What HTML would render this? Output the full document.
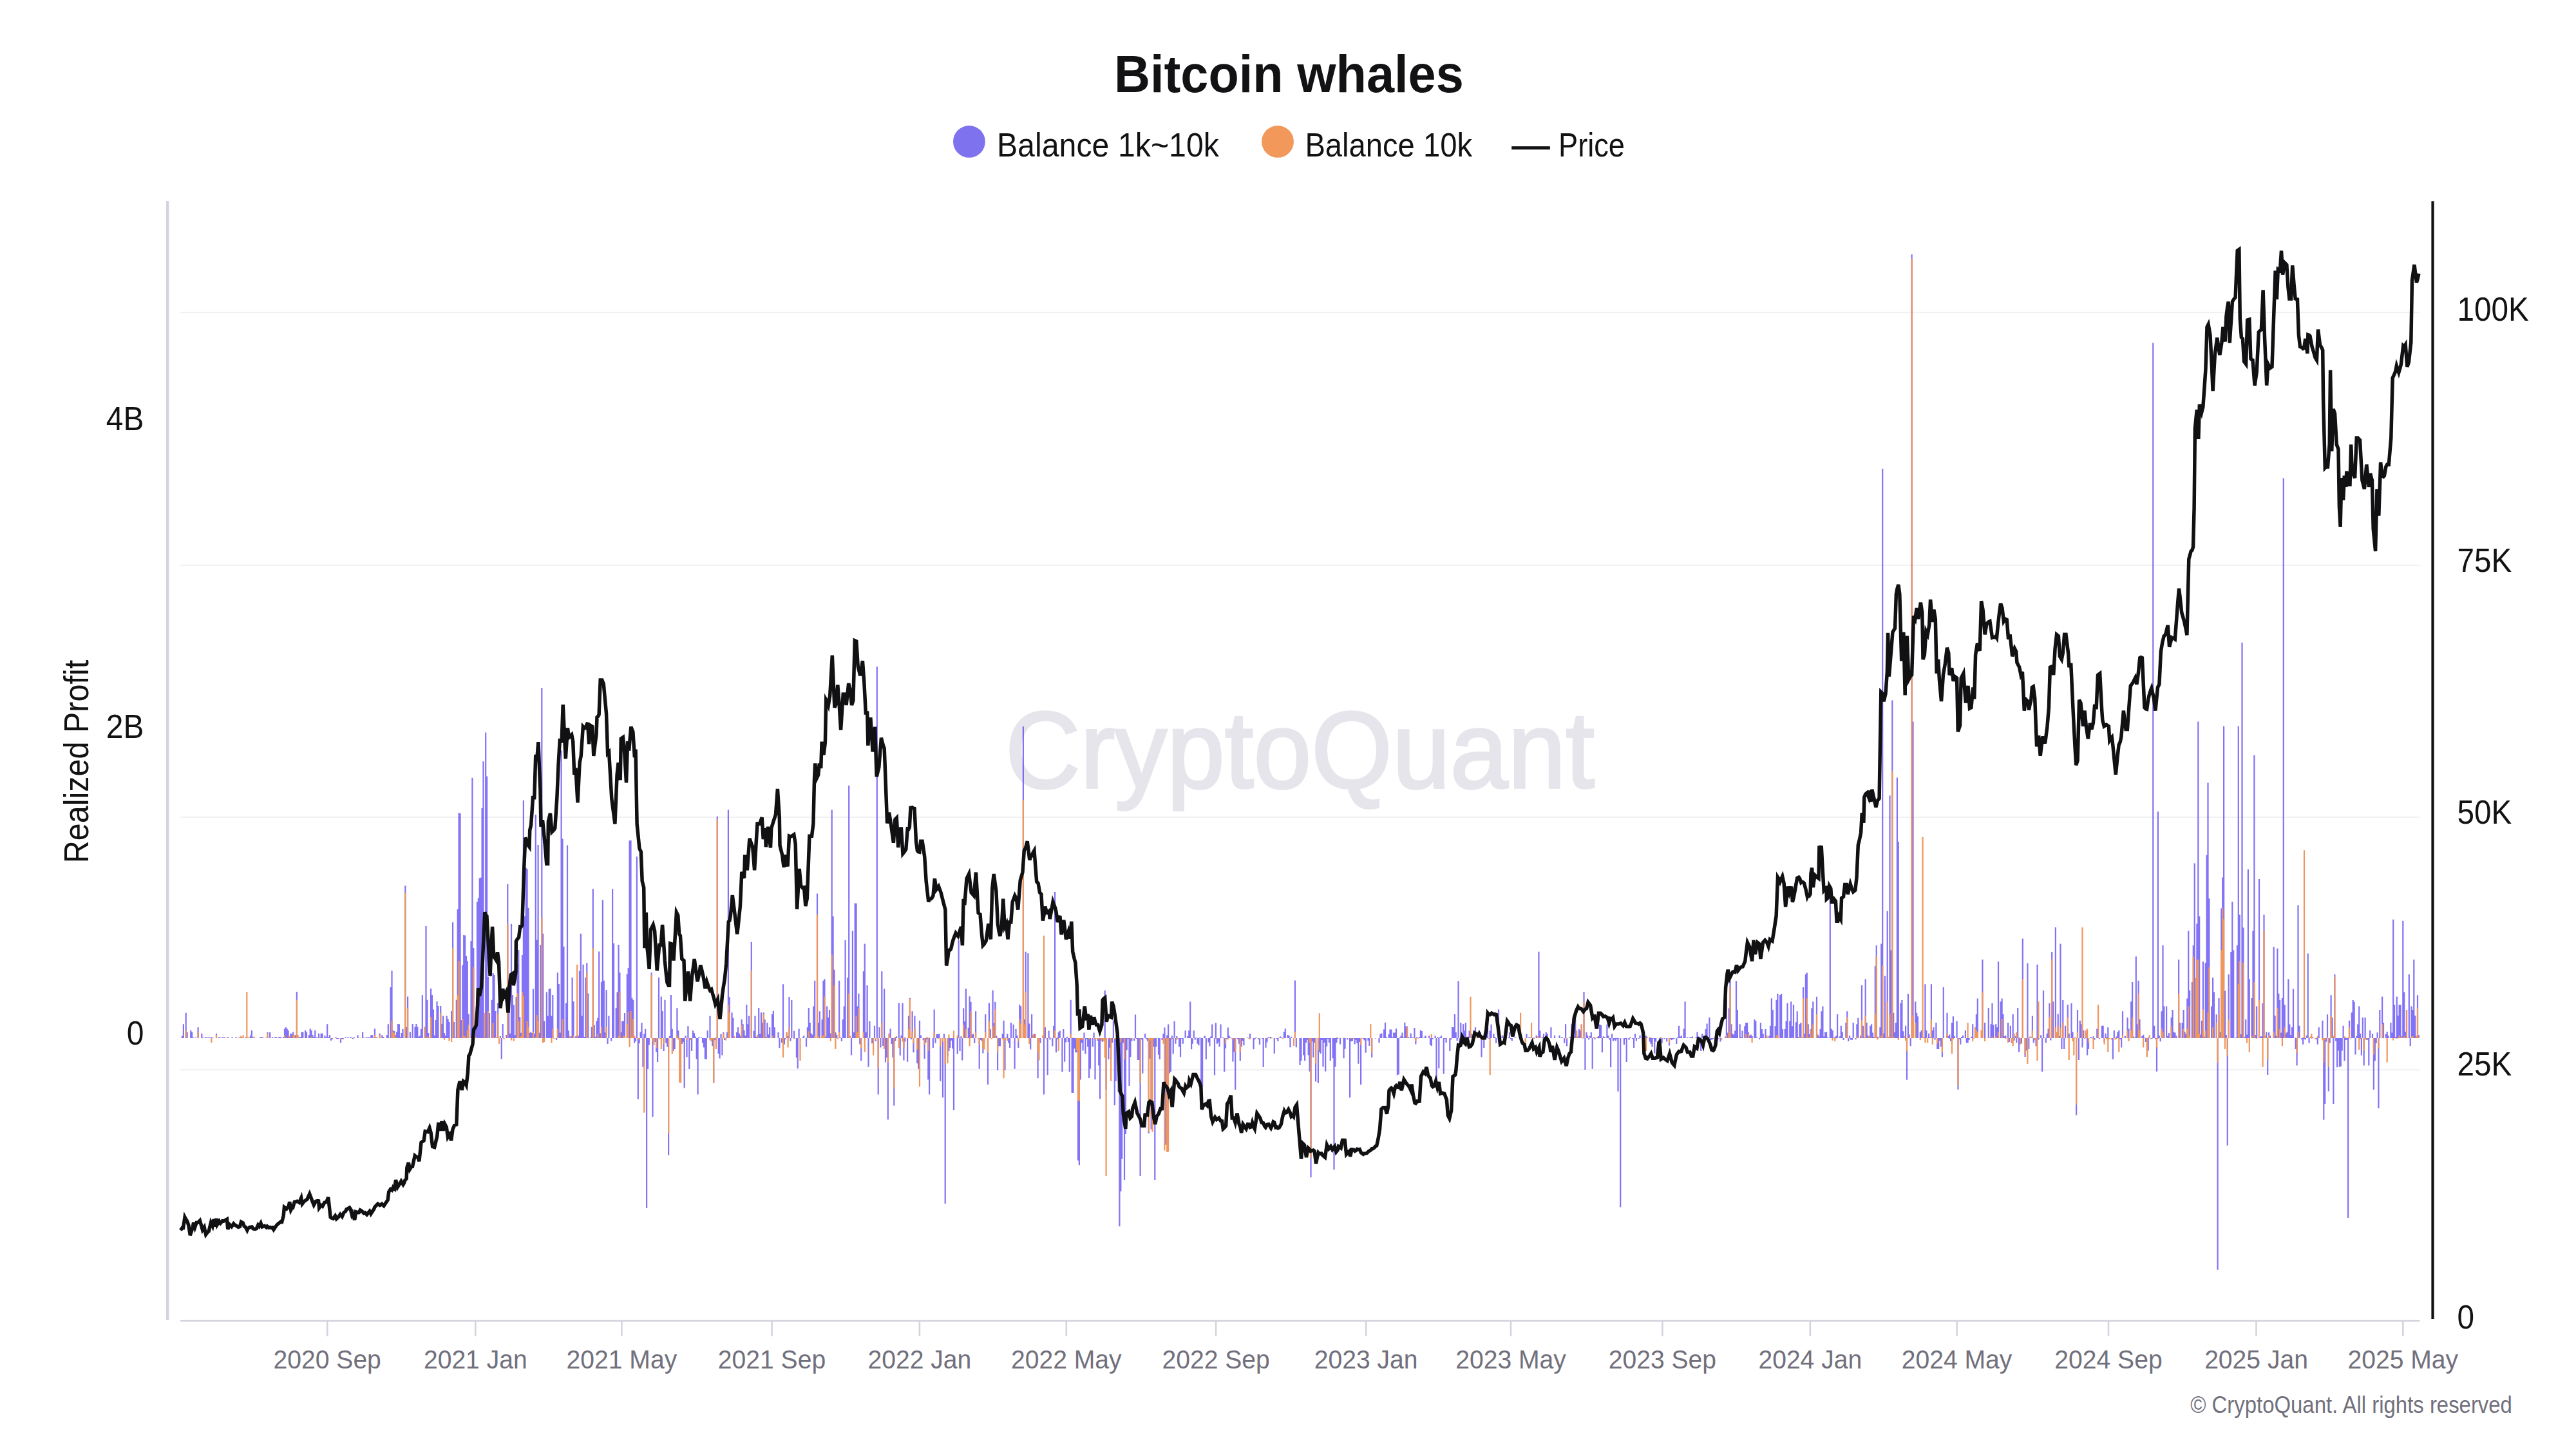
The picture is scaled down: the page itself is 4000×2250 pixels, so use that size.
<!DOCTYPE html><html><head><meta charset="utf-8"><title>Bitcoin whales</title><style>html,body{margin:0;padding:0;background:#fff;width:4000px;height:2250px;overflow:hidden}svg{display:block}text{font-family:"Liberation Sans", sans-serif}</style></head><body><svg width="4000" height="2250" viewBox="0 0 4000 2250"><rect x="0" y="0" width="4000" height="2250" fill="#ffffff"/><text x="1729.9" y="143.2" font-size="82" font-weight="bold" fill="#121214" textLength="543" lengthAdjust="spacingAndGlyphs">Bitcoin whales</text><circle cx="1504.9" cy="219.9" r="24.9" fill="#7f72ee"/><text x="1547.9" y="243.1" font-size="51.5" fill="#121214" textLength="345.1" lengthAdjust="spacingAndGlyphs">Balance 1k~10k</text><circle cx="1984" cy="219.9" r="24.9" fill="#f2985a"/><text x="2026.4" y="243.1" font-size="51.5" fill="#121214" textLength="259.6" lengthAdjust="spacingAndGlyphs">Balance 10k</text><rect x="2347.2" y="227.2" width="59.7" height="5" fill="#121214"/><text x="2420" y="243.1" font-size="51.5" fill="#121214" textLength="103" lengthAdjust="spacingAndGlyphs">Price</text><rect x="280" y="484.2" width="3477" height="2" fill="#f0f0f3"/><rect x="280" y="876.8" width="3477" height="2" fill="#f0f0f3"/><rect x="280" y="1267.9" width="3477" height="2" fill="#f0f0f3"/><rect x="280" y="1660.2" width="3477" height="2" fill="#f0f0f3"/><text x="1561" y="1223" font-size="168" fill="#e5e5eb" stroke="#e5e5eb" stroke-width="3.5" textLength="915" lengthAdjust="spacingAndGlyphs">CryptoQuant</text><path d="M281.9 1608.5h2.2v3.5h-2.2zM283.8 1590.3h2.2v21.7h-2.2zM287.6 1572.7h2.2v39.3h-2.2zM289.5 1603.1h2.2v8.9h-2.2zM295.1 1600.0h2.2v12.0h-2.2zM297.0 1602.4h2.2v9.6h-2.2zM298.9 1611.0h2.2v1.0h-2.2zM302.7 1610.9h2.2v1.1h-2.2zM306.5 1595.2h2.2v16.8h-2.2zM312.2 1604.8h2.2v7.2h-2.2zM314.1 1611.0h2.2v1.0h-2.2zM317.8 1610.4h2.2v1.6h-2.2zM319.7 1611.0h2.2v1.0h-2.2zM321.6 1610.9h2.2v1.1h-2.2zM323.5 1610.9h2.2v1.1h-2.2zM325.4 1611.1h2.2v0.9h-2.2zM327.3 1610.8h2.2v1.2h-2.2zM329.2 1611.1h2.2v0.9h-2.2zM334.9 1604.8h2.2v7.2h-2.2zM338.7 1610.6h2.2v1.4h-2.2zM340.6 1611.0h2.2v1.0h-2.2zM344.3 1610.6h2.2v1.4h-2.2zM346.2 1611.1h2.2v0.9h-2.2zM348.1 1610.7h2.2v1.3h-2.2zM351.9 1611.0h2.2v1.0h-2.2zM353.8 1610.6h2.2v1.4h-2.2zM359.5 1610.6h2.2v1.4h-2.2zM365.2 1610.6h2.2v1.4h-2.2zM368.9 1611.2h2.2v0.8h-2.2zM374.6 1610.6h2.2v1.4h-2.2zM384.1 1611.0h2.2v1.0h-2.2zM387.9 1608.0h2.2v4.0h-2.2zM389.8 1600.0h2.2v12.0h-2.2zM391.7 1610.8h2.2v1.2h-2.2zM403.0 1610.6h2.2v1.4h-2.2zM404.9 1610.6h2.2v1.4h-2.2zM406.8 1610.5h2.2v1.5h-2.2zM412.5 1611.3h2.2v0.7h-2.2zM414.4 1603.1h2.2v8.9h-2.2zM418.1 1603.1h2.2v8.9h-2.2zM421.9 1610.6h2.2v1.4h-2.2zM425.7 1610.6h2.2v1.4h-2.2zM427.6 1610.3h2.2v1.7h-2.2zM431.4 1610.6h2.2v1.4h-2.2zM433.3 1610.1h2.2v1.9h-2.2zM435.2 1610.6h2.2v1.4h-2.2zM439.0 1610.1h2.2v1.9h-2.2zM440.9 1597.6h2.2v14.4h-2.2zM442.8 1595.2h2.2v16.8h-2.2zM444.6 1597.6h2.2v14.4h-2.2zM446.5 1600.0h2.2v12.0h-2.2zM448.4 1610.0h2.2v2.0h-2.2zM450.3 1604.8h2.2v7.2h-2.2zM452.2 1606.0h2.2v6.0h-2.2zM454.1 1602.4h2.2v9.6h-2.2zM456.0 1611.0h2.2v1.0h-2.2zM457.9 1607.2h2.2v4.8h-2.2zM459.8 1540.1h2.2v71.9h-2.2zM463.6 1610.7h2.2v1.3h-2.2zM465.5 1610.2h2.2v1.8h-2.2zM467.4 1602.4h2.2v9.6h-2.2zM469.2 1602.4h2.2v9.6h-2.2zM473.0 1600.0h2.2v12.0h-2.2zM474.9 1602.4h2.2v9.6h-2.2zM478.7 1607.2h2.2v4.8h-2.2zM480.6 1597.6h2.2v14.4h-2.2zM482.5 1600.0h2.2v12.0h-2.2zM484.4 1607.2h2.2v4.8h-2.2zM486.3 1610.3h2.2v1.7h-2.2zM488.2 1600.0h2.2v12.0h-2.2zM490.1 1611.0h2.2v1.0h-2.2zM492.0 1611.0h2.2v1.0h-2.2zM493.9 1604.8h2.2v7.2h-2.2zM495.7 1610.9h2.2v1.1h-2.2zM497.6 1604.8h2.2v7.2h-2.2zM499.5 1604.8h2.2v7.2h-2.2zM503.3 1608.0h2.2v4.0h-2.2zM505.2 1610.5h2.2v1.5h-2.2zM507.1 1590.3h2.2v21.7h-2.2zM509.0 1610.6h2.2v1.4h-2.2zM510.9 1607.2h2.2v4.8h-2.2zM512.8 1612.0h2.2v3.7h-2.2zM514.7 1612.0h2.2v1.8h-2.2zM520.3 1610.5h2.2v1.5h-2.2zM522.2 1612.0h2.2v1.3h-2.2zM524.1 1612.0h2.2v1.3h-2.2zM527.9 1612.0h2.2v7.3h-2.2zM529.8 1612.0h2.2v1.5h-2.2zM531.7 1612.0h2.2v1.4h-2.2zM535.5 1610.6h2.2v1.4h-2.2zM539.3 1610.6h2.2v1.4h-2.2zM543.1 1610.6h2.2v1.4h-2.2zM545.0 1611.1h2.2v0.9h-2.2zM546.8 1612.0h2.2v1.3h-2.2zM548.7 1610.6h2.2v1.4h-2.2zM554.4 1607.2h2.2v4.8h-2.2zM562.0 1602.4h2.2v9.6h-2.2zM563.9 1611.2h2.2v0.8h-2.2zM567.7 1610.8h2.2v1.2h-2.2zM569.6 1610.9h2.2v1.1h-2.2zM571.4 1610.8h2.2v1.2h-2.2zM573.3 1611.0h2.2v1.0h-2.2zM575.2 1607.2h2.2v4.8h-2.2zM577.1 1607.2h2.2v4.8h-2.2zM579.0 1611.3h2.2v0.7h-2.2zM580.9 1597.6h2.2v14.4h-2.2zM582.8 1610.7h2.2v1.3h-2.2zM584.7 1611.2h2.2v0.8h-2.2zM588.5 1604.8h2.2v7.2h-2.2zM592.3 1607.2h2.2v4.8h-2.2zM594.2 1610.1h2.2v1.9h-2.2zM599.8 1607.2h2.2v4.8h-2.2zM601.7 1590.3h2.2v21.7h-2.2zM605.5 1532.9h2.2v79.1h-2.2zM607.4 1507.5h2.2v104.5h-2.2zM609.3 1600.0h2.2v12.0h-2.2zM611.2 1600.9h2.2v11.1h-2.2zM613.1 1607.2h2.2v4.8h-2.2zM615.0 1602.4h2.2v9.6h-2.2zM616.9 1590.1h2.2v21.9h-2.2zM618.8 1590.3h2.2v21.7h-2.2zM620.7 1610.3h2.2v1.7h-2.2zM622.5 1604.0h2.2v8.0h-2.2zM624.4 1597.8h2.2v14.2h-2.2zM628.2 1375.3h2.2v236.7h-2.2zM630.1 1594.7h2.2v17.3h-2.2zM632.0 1547.5h2.2v64.5h-2.2zM635.8 1602.5h2.2v9.5h-2.2zM639.6 1590.1h2.2v21.9h-2.2zM643.4 1594.7h2.2v17.3h-2.2zM645.3 1590.1h2.2v21.9h-2.2zM647.2 1594.7h2.2v17.3h-2.2zM649.0 1609.8h2.2v2.2h-2.2zM650.9 1608.6h2.2v3.4h-2.2zM652.8 1597.8h2.2v14.2h-2.2zM654.7 1545.0h2.2v67.0h-2.2zM658.5 1594.7h2.2v17.3h-2.2zM660.4 1437.9h2.2v174.1h-2.2zM662.3 1552.8h2.2v59.2h-2.2zM664.2 1604.0h2.2v8.0h-2.2zM668.0 1535.1h2.2v76.9h-2.2zM669.9 1545.0h2.2v67.0h-2.2zM671.8 1567.4h2.2v44.6h-2.2zM673.6 1607.8h2.2v4.2h-2.2zM675.5 1583.9h2.2v28.1h-2.2zM677.4 1555.0h2.2v57.0h-2.2zM679.3 1562.1h2.2v49.9h-2.2zM683.1 1562.1h2.2v49.9h-2.2zM685.0 1590.1h2.2v21.9h-2.2zM686.9 1577.6h2.2v34.4h-2.2zM688.8 1604.0h2.2v8.0h-2.2zM690.7 1608.1h2.2v3.9h-2.2zM692.6 1577.6h2.2v34.4h-2.2zM694.5 1582.3h2.2v29.7h-2.2zM696.4 1587.0h2.2v25.0h-2.2zM700.1 1569.9h2.2v42.1h-2.2zM702.0 1432.3h2.2v179.7h-2.2zM703.9 1587.0h2.2v25.0h-2.2zM705.8 1611.3h2.2v0.7h-2.2zM707.7 1552.8h2.2v59.2h-2.2zM709.6 1412.1h2.2v199.9h-2.2zM711.5 1262.4h2.2v349.6h-2.2zM713.4 1262.7h2.2v349.3h-2.2zM715.3 1583.9h2.2v28.1h-2.2zM717.2 1498.4h2.2v113.6h-2.2zM719.1 1451.9h2.2v160.1h-2.2zM721.0 1452.5h2.2v159.5h-2.2zM722.9 1484.5h2.2v127.5h-2.2zM724.7 1492.2h2.2v119.8h-2.2zM726.6 1574.5h2.2v37.5h-2.2zM730.4 1461.2h2.2v150.8h-2.2zM732.3 1207.7h2.2v404.3h-2.2zM734.2 1472.0h2.2v140.0h-2.2zM736.1 1611.3h2.2v0.7h-2.2zM738.0 1585.4h2.2v26.6h-2.2zM739.9 1400.2h2.2v211.8h-2.2zM741.8 1394.4h2.2v217.6h-2.2zM743.7 1363.4h2.2v248.6h-2.2zM745.6 1362.7h2.2v249.3h-2.2zM747.5 1255.1h2.2v356.9h-2.2zM749.4 1182.2h2.2v429.8h-2.2zM751.2 1608.6h2.2v3.4h-2.2zM753.1 1137.5h2.2v474.5h-2.2zM755.0 1205.4h2.2v406.6h-2.2zM756.9 1517.1h2.2v94.9h-2.2zM758.8 1573.0h2.2v39.0h-2.2zM762.6 1552.8h2.2v59.2h-2.2zM764.5 1510.9h2.2v101.1h-2.2zM766.4 1514.0h2.2v98.0h-2.2zM768.3 1569.9h2.2v42.1h-2.2zM772.1 1557.5h2.2v54.5h-2.2zM775.8 1608.9h2.2v3.1h-2.2zM777.7 1612.0h2.2v32.4h-2.2zM779.6 1590.1h2.2v21.9h-2.2zM785.3 1607.1h2.2v4.9h-2.2zM787.2 1372.7h2.2v239.3h-2.2zM789.1 1520.2h2.2v91.8h-2.2zM791.0 1604.7h2.2v7.3h-2.2zM792.9 1434.8h2.2v177.2h-2.2zM794.8 1545.0h2.2v67.0h-2.2zM796.7 1560.6h2.2v51.4h-2.2zM798.6 1607.3h2.2v4.7h-2.2zM800.5 1548.1h2.2v63.9h-2.2zM802.3 1496.9h2.2v115.1h-2.2zM804.2 1475.2h2.2v136.8h-2.2zM806.1 1579.2h2.2v32.8h-2.2zM808.0 1603.8h2.2v8.2h-2.2zM809.9 1482.9h2.2v129.1h-2.2zM811.8 1242.8h2.2v369.2h-2.2zM813.7 1422.4h2.2v189.6h-2.2zM815.6 1347.8h2.2v264.2h-2.2zM817.5 1349.4h2.2v262.6h-2.2zM819.4 1409.8h2.2v202.2h-2.2zM821.3 1603.7h2.2v8.3h-2.2zM823.2 1602.5h2.2v9.5h-2.2zM825.1 1604.0h2.2v8.0h-2.2zM826.9 1535.7h2.2v76.3h-2.2zM828.8 1605.1h2.2v6.9h-2.2zM830.7 1265.0h2.2v347.0h-2.2zM832.6 1459.6h2.2v152.4h-2.2zM834.5 1312.1h2.2v299.9h-2.2zM836.4 1603.7h2.2v8.3h-2.2zM838.3 1467.1h2.2v144.9h-2.2zM840.2 1067.9h2.2v544.1h-2.2zM842.1 1449.8h2.2v162.2h-2.2zM844.0 1585.4h2.2v26.6h-2.2zM847.8 1540.4h2.2v71.6h-2.2zM849.7 1577.6h2.2v34.4h-2.2zM851.6 1535.7h2.2v76.3h-2.2zM853.4 1535.1h2.2v76.9h-2.2zM855.3 1577.6h2.2v34.4h-2.2zM857.2 1545.0h2.2v67.0h-2.2zM862.9 1612.0h2.2v2.9h-2.2zM864.8 1510.2h2.2v101.8h-2.2zM866.7 1528.0h2.2v84.0h-2.2zM868.6 1603.6h2.2v8.4h-2.2zM870.5 1165.6h2.2v446.4h-2.2zM872.4 1302.4h2.2v309.6h-2.2zM874.3 1469.7h2.2v142.3h-2.2zM878.0 1557.5h2.2v54.5h-2.2zM879.9 1312.4h2.2v299.6h-2.2zM881.8 1600.3h2.2v11.7h-2.2zM885.6 1609.4h2.2v2.6h-2.2zM887.5 1517.7h2.2v94.3h-2.2zM889.4 1555.0h2.2v57.0h-2.2zM893.2 1608.9h2.2v3.1h-2.2zM895.1 1607.1h2.2v4.9h-2.2zM897.0 1608.2h2.2v3.8h-2.2zM898.9 1507.8h2.2v104.2h-2.2zM900.8 1449.8h2.2v162.2h-2.2zM902.7 1577.6h2.2v34.4h-2.2zM904.5 1497.8h2.2v114.2h-2.2zM906.4 1610.0h2.2v2.0h-2.2zM908.3 1517.7h2.2v94.3h-2.2zM910.2 1495.3h2.2v116.7h-2.2zM912.1 1542.5h2.2v69.5h-2.2zM917.8 1594.7h2.2v17.3h-2.2zM919.7 1380.3h2.2v231.7h-2.2zM921.6 1591.6h2.2v20.4h-2.2zM923.5 1609.7h2.2v2.3h-2.2zM925.4 1585.4h2.2v26.6h-2.2zM927.3 1580.7h2.2v31.3h-2.2zM929.1 1477.6h2.2v134.4h-2.2zM931.0 1604.5h2.2v7.5h-2.2zM932.9 1524.8h2.2v87.2h-2.2zM934.8 1397.5h2.2v214.5h-2.2zM936.7 1522.7h2.2v89.3h-2.2zM938.6 1603.2h2.2v8.8h-2.2zM940.5 1537.3h2.2v74.7h-2.2zM942.4 1612.0h2.2v9.1h-2.2zM944.3 1577.6h2.2v34.4h-2.2zM948.1 1612.0h2.2v4.5h-2.2zM950.0 1380.3h2.2v231.7h-2.2zM951.9 1464.8h2.2v147.2h-2.2zM955.6 1565.2h2.2v46.8h-2.2zM957.5 1540.4h2.2v71.6h-2.2zM959.4 1467.1h2.2v144.9h-2.2zM961.3 1510.2h2.2v101.8h-2.2zM963.2 1603.1h2.2v8.9h-2.2zM965.1 1585.4h2.2v26.6h-2.2zM967.0 1585.4h2.2v26.6h-2.2zM968.9 1573.0h2.2v39.0h-2.2zM972.7 1512.4h2.2v99.6h-2.2zM974.6 1503.1h2.2v108.9h-2.2zM976.5 1305.3h2.2v306.7h-2.2zM978.4 1305.1h2.2v306.9h-2.2zM980.2 1549.7h2.2v62.3h-2.2zM982.1 1552.8h2.2v59.2h-2.2zM984.0 1612.0h2.2v7.6h-2.2zM985.9 1612.0h2.2v5.0h-2.2zM987.8 1329.9h2.2v282.1h-2.2zM989.7 1612.0h2.2v95.1h-2.2zM991.6 1612.0h2.2v8.3h-2.2zM993.5 1602.5h2.2v9.5h-2.2zM995.4 1587.9h2.2v24.1h-2.2zM997.3 1612.0h2.2v44.8h-2.2zM999.2 1605.5h2.2v6.5h-2.2zM1001.1 1597.8h2.2v14.2h-2.2zM1003.0 1612.0h2.2v264.1h-2.2zM1004.9 1612.0h2.2v47.9h-2.2zM1006.7 1612.0h2.2v10.7h-2.2zM1010.5 1510.2h2.2v101.8h-2.2zM1012.4 1612.0h2.2v122.2h-2.2zM1014.3 1612.0h2.2v1.0h-2.2zM1016.2 1612.0h2.2v6.0h-2.2zM1018.1 1612.0h2.2v21.5h-2.2zM1020.0 1612.0h2.2v37.1h-2.2zM1021.9 1517.7h2.2v94.3h-2.2zM1025.7 1547.5h2.2v64.5h-2.2zM1027.6 1569.9h2.2v42.1h-2.2zM1029.5 1612.0h2.2v20.0h-2.2zM1031.4 1552.8h2.2v59.2h-2.2zM1033.2 1612.0h2.2v7.6h-2.2zM1035.1 1612.0h2.2v13.8h-2.2zM1037.0 1612.0h2.2v182.0h-2.2zM1038.9 1609.0h2.2v3.0h-2.2zM1040.8 1545.0h2.2v67.0h-2.2zM1042.7 1597.8h2.2v14.2h-2.2zM1044.6 1612.0h2.2v20.0h-2.2zM1046.5 1612.0h2.2v16.9h-2.2zM1050.3 1565.2h2.2v46.8h-2.2zM1052.2 1600.3h2.2v11.7h-2.2zM1057.8 1612.0h2.2v9.1h-2.2zM1059.7 1612.0h2.2v6.0h-2.2zM1061.6 1612.0h2.2v77.4h-2.2zM1063.5 1608.3h2.2v3.7h-2.2zM1065.4 1612.0h2.2v29.3h-2.2zM1067.3 1593.2h2.2v18.8h-2.2zM1069.2 1612.0h2.2v47.9h-2.2zM1071.1 1612.0h2.2v1.9h-2.2zM1073.0 1612.0h2.2v20.0h-2.2zM1074.9 1600.3h2.2v11.7h-2.2zM1076.8 1604.0h2.2v8.0h-2.2zM1078.7 1609.5h2.2v2.5h-2.2zM1080.6 1612.0h2.2v32.4h-2.2zM1082.5 1612.0h2.2v87.5h-2.2zM1084.3 1610.2h2.2v1.8h-2.2zM1088.1 1610.8h2.2v1.2h-2.2zM1090.0 1612.0h2.2v7.6h-2.2zM1091.9 1612.0h2.2v14.6h-2.2zM1093.8 1612.0h2.2v32.4h-2.2zM1095.7 1612.0h2.2v32.7h-2.2zM1097.6 1600.3h2.2v11.7h-2.2zM1101.4 1577.5h2.2v34.5h-2.2zM1103.3 1612.0h2.2v4.4h-2.2zM1105.2 1612.0h2.2v12.2h-2.2zM1107.1 1612.0h2.2v70.1h-2.2zM1108.9 1612.0h2.2v3.3h-2.2zM1110.8 1611.3h2.2v0.7h-2.2zM1112.7 1267.7h2.2v344.3h-2.2zM1114.6 1612.0h2.2v24.2h-2.2zM1116.5 1612.0h2.2v31.5h-2.2zM1118.4 1605.8h2.2v6.2h-2.2zM1120.3 1612.0h2.2v26.6h-2.2zM1122.2 1603.1h2.2v8.9h-2.2zM1124.1 1612.0h2.2v2.9h-2.2zM1127.9 1603.1h2.2v8.9h-2.2zM1129.8 1257.6h2.2v354.4h-2.2zM1131.7 1548.1h2.2v63.9h-2.2zM1135.4 1572.2h2.2v39.8h-2.2zM1137.3 1580.7h2.2v31.3h-2.2zM1139.2 1611.4h2.2v0.6h-2.2zM1143.0 1603.1h2.2v8.9h-2.2zM1144.9 1595.2h2.2v16.8h-2.2zM1146.8 1604.8h2.2v7.2h-2.2zM1148.7 1608.2h2.2v3.8h-2.2zM1150.6 1583.1h2.2v28.9h-2.2zM1152.5 1590.3h2.2v21.7h-2.2zM1154.4 1600.0h2.2v12.0h-2.2zM1156.3 1608.1h2.2v3.9h-2.2zM1158.2 1560.1h2.2v51.9h-2.2zM1160.0 1590.3h2.2v21.7h-2.2zM1161.9 1577.5h2.2v34.5h-2.2zM1165.7 1462.8h2.2v149.2h-2.2zM1169.5 1600.7h2.2v11.3h-2.2zM1171.4 1577.5h2.2v34.5h-2.2zM1173.3 1609.8h2.2v2.2h-2.2zM1175.2 1606.8h2.2v5.2h-2.2zM1177.1 1565.0h2.2v47.0h-2.2zM1179.0 1605.6h2.2v6.4h-2.2zM1180.9 1572.2h2.2v39.8h-2.2zM1182.8 1587.9h2.2v24.1h-2.2zM1184.7 1572.2h2.2v39.8h-2.2zM1186.5 1583.1h2.2v28.9h-2.2zM1188.4 1609.9h2.2v2.1h-2.2zM1190.3 1587.9h2.2v24.1h-2.2zM1192.2 1606.2h2.2v5.8h-2.2zM1194.1 1595.2h2.2v16.8h-2.2zM1197.9 1575.1h2.2v36.9h-2.2zM1199.8 1569.8h2.2v42.2h-2.2zM1201.7 1595.2h2.2v16.8h-2.2zM1207.4 1603.1h2.2v8.9h-2.2zM1209.3 1612.0h2.2v15.3h-2.2zM1213.0 1612.0h2.2v7.1h-2.2zM1214.9 1528.3h2.2v83.7h-2.2zM1216.8 1612.0h2.2v9.7h-2.2zM1218.7 1612.0h2.2v1.9h-2.2zM1220.6 1603.1h2.2v8.9h-2.2zM1222.5 1608.7h2.2v3.3h-2.2zM1224.4 1548.1h2.2v63.9h-2.2zM1226.3 1612.0h2.2v4.4h-2.2zM1228.2 1552.9h2.2v59.1h-2.2zM1232.0 1600.7h2.2v11.3h-2.2zM1235.8 1612.0h2.2v30.3h-2.2zM1237.6 1612.0h2.2v47.2h-2.2zM1239.5 1597.6h2.2v14.4h-2.2zM1245.2 1611.0h2.2v1.0h-2.2zM1247.1 1608.0h2.2v4.0h-2.2zM1250.9 1612.0h2.2v13.4h-2.2zM1252.8 1595.2h2.2v16.8h-2.2zM1254.7 1565.0h2.2v47.0h-2.2zM1256.6 1587.9h2.2v24.1h-2.2zM1258.5 1604.4h2.2v7.6h-2.2zM1260.4 1606.8h2.2v5.2h-2.2zM1262.2 1562.6h2.2v49.4h-2.2zM1264.1 1522.7h2.2v89.3h-2.2zM1267.9 1387.4h2.2v224.6h-2.2zM1269.8 1587.9h2.2v24.1h-2.2zM1271.7 1570.3h2.2v41.7h-2.2zM1275.5 1583.1h2.2v28.9h-2.2zM1277.4 1522.7h2.2v89.3h-2.2zM1279.3 1520.3h2.2v91.7h-2.2zM1281.2 1609.4h2.2v2.6h-2.2zM1283.1 1562.6h2.2v49.4h-2.2zM1285.0 1580.0h2.2v32.0h-2.2zM1286.9 1567.9h2.2v44.1h-2.2zM1288.7 1604.5h2.2v7.5h-2.2zM1290.6 1257.6h2.2v354.4h-2.2zM1292.5 1422.9h2.2v189.1h-2.2zM1294.4 1505.8h2.2v106.2h-2.2zM1296.3 1603.1h2.2v8.9h-2.2zM1298.2 1606.8h2.2v5.2h-2.2zM1302.0 1522.7h2.2v89.3h-2.2zM1303.9 1610.7h2.2v1.3h-2.2zM1305.8 1612.0h2.2v4.9h-2.2zM1307.7 1583.1h2.2v28.9h-2.2zM1309.6 1562.6h2.2v49.4h-2.2zM1311.5 1459.9h2.2v152.1h-2.2zM1315.2 1517.9h2.2v94.1h-2.2zM1317.1 1219.8h2.2v392.2h-2.2zM1319.0 1609.5h2.2v2.5h-2.2zM1320.9 1612.0h2.2v26.6h-2.2zM1322.8 1445.4h2.2v166.6h-2.2zM1324.7 1603.1h2.2v8.9h-2.2zM1326.6 1402.5h2.2v209.5h-2.2zM1328.5 1402.7h2.2v209.3h-2.2zM1330.4 1562.6h2.2v49.4h-2.2zM1332.3 1542.8h2.2v69.2h-2.2zM1334.2 1612.0h2.2v9.5h-2.2zM1336.1 1612.0h2.2v35.1h-2.2zM1339.8 1508.2h2.2v103.8h-2.2zM1341.7 1465.5h2.2v146.5h-2.2zM1343.6 1603.0h2.2v9.0h-2.2zM1345.5 1530.0h2.2v82.0h-2.2zM1347.4 1612.0h2.2v44.8h-2.2zM1349.3 1585.5h2.2v26.5h-2.2zM1353.1 1612.0h2.2v8.3h-2.2zM1356.9 1592.8h2.2v19.2h-2.2zM1358.8 1612.0h2.2v4.7h-2.2zM1360.7 1035.0h2.2v577.0h-2.2zM1362.6 1612.0h2.2v87.5h-2.2zM1364.4 1595.2h2.2v16.8h-2.2zM1366.3 1612.0h2.2v14.6h-2.2zM1368.2 1508.2h2.2v103.8h-2.2zM1370.1 1612.0h2.2v12.2h-2.2zM1372.0 1535.5h2.2v76.5h-2.2zM1373.9 1612.0h2.2v37.5h-2.2zM1375.8 1612.0h2.2v30.3h-2.2zM1377.7 1612.0h2.2v126.6h-2.2zM1379.6 1604.8h2.2v7.2h-2.2zM1381.5 1597.6h2.2v14.4h-2.2zM1383.4 1612.0h2.2v9.0h-2.2zM1385.3 1612.0h2.2v30.3h-2.2zM1387.2 1612.0h2.2v104.8h-2.2zM1389.1 1612.0h2.2v4.4h-2.2zM1390.9 1609.2h2.2v2.8h-2.2zM1394.7 1557.5h2.2v54.5h-2.2zM1396.6 1612.0h2.2v27.1h-2.2zM1398.5 1607.7h2.2v4.3h-2.2zM1400.4 1557.5h2.2v54.5h-2.2zM1402.3 1612.0h2.2v34.4h-2.2zM1404.2 1612.0h2.2v5.4h-2.2zM1408.0 1612.0h2.2v36.8h-2.2zM1409.9 1577.5h2.2v34.5h-2.2zM1411.8 1549.8h2.2v62.2h-2.2zM1413.7 1612.0h2.2v1.7h-2.2zM1415.5 1570.3h2.2v41.7h-2.2zM1417.4 1612.0h2.2v22.3h-2.2zM1419.3 1577.5h2.2v34.5h-2.2zM1423.1 1612.0h2.2v39.2h-2.2zM1425.0 1612.0h2.2v47.7h-2.2zM1426.9 1584.8h2.2v27.2h-2.2zM1428.8 1607.4h2.2v4.6h-2.2zM1432.6 1612.0h2.2v3.2h-2.2zM1434.5 1612.0h2.2v32.0h-2.2zM1436.4 1612.0h2.2v6.9h-2.2zM1438.3 1612.0h2.2v1.9h-2.2zM1440.2 1612.0h2.2v64.6h-2.2zM1442.0 1612.0h2.2v87.5h-2.2zM1447.7 1612.0h2.2v15.1h-2.2zM1449.6 1567.4h2.2v44.6h-2.2zM1451.5 1612.0h2.2v7.8h-2.2zM1453.4 1606.0h2.2v6.0h-2.2zM1455.3 1606.0h2.2v6.0h-2.2zM1457.2 1605.3h2.2v6.7h-2.2zM1459.1 1612.0h2.2v67.0h-2.2zM1462.9 1612.0h2.2v92.3h-2.2zM1464.8 1605.3h2.2v6.7h-2.2zM1466.6 1612.0h2.2v257.0h-2.2zM1470.4 1612.0h2.2v28.3h-2.2zM1472.3 1612.0h2.2v19.9h-2.2zM1474.2 1612.0h2.2v15.1h-2.2zM1476.1 1612.0h2.2v3.7h-2.2zM1478.0 1612.0h2.2v16.3h-2.2zM1479.9 1612.0h2.2v111.9h-2.2zM1485.6 1612.0h2.2v24.7h-2.2zM1487.5 1459.9h2.2v152.1h-2.2zM1489.4 1612.0h2.2v19.9h-2.2zM1491.3 1609.3h2.2v2.7h-2.2zM1493.1 1612.0h2.2v34.4h-2.2zM1495.0 1565.5h2.2v46.5h-2.2zM1496.9 1586.0h2.2v26.0h-2.2zM1498.8 1535.3h2.2v76.7h-2.2zM1502.6 1595.7h2.2v16.3h-2.2zM1504.5 1547.3h2.2v64.7h-2.2zM1506.4 1555.8h2.2v56.2h-2.2zM1508.3 1606.5h2.2v5.5h-2.2zM1510.2 1605.3h2.2v6.7h-2.2zM1512.1 1612.0h2.2v7.8h-2.2zM1514.0 1570.3h2.2v41.7h-2.2zM1519.6 1612.0h2.2v47.7h-2.2zM1521.5 1612.0h2.2v2.9h-2.2zM1523.4 1612.0h2.2v4.2h-2.2zM1525.3 1612.0h2.2v23.5h-2.2zM1527.2 1612.0h2.2v5.4h-2.2zM1529.1 1575.1h2.2v36.9h-2.2zM1532.9 1612.0h2.2v72.2h-2.2zM1534.8 1557.5h2.2v54.5h-2.2zM1536.7 1598.1h2.2v13.9h-2.2zM1540.5 1537.7h2.2v74.3h-2.2zM1542.4 1588.4h2.2v23.6h-2.2zM1544.2 1555.8h2.2v56.2h-2.2zM1546.1 1608.2h2.2v3.8h-2.2zM1548.0 1612.0h2.2v50.1h-2.2zM1549.9 1612.0h2.2v12.6h-2.2zM1551.8 1612.0h2.2v12.6h-2.2zM1555.6 1605.3h2.2v6.7h-2.2zM1557.5 1584.8h2.2v27.2h-2.2zM1559.4 1612.0h2.2v50.1h-2.2zM1561.3 1610.9h2.2v1.1h-2.2zM1563.2 1605.3h2.2v6.7h-2.2zM1565.1 1612.0h2.2v7.8h-2.2zM1567.0 1612.0h2.2v15.1h-2.2zM1568.8 1587.9h2.2v24.1h-2.2zM1572.6 1590.8h2.2v21.2h-2.2zM1574.5 1612.0h2.2v47.7h-2.2zM1576.4 1598.1h2.2v13.9h-2.2zM1578.3 1608.0h2.2v4.0h-2.2zM1580.2 1612.0h2.2v15.1h-2.2zM1582.1 1559.9h2.2v52.1h-2.2zM1584.0 1562.3h2.2v49.7h-2.2zM1587.8 1127.9h2.2v484.1h-2.2zM1589.7 1582.4h2.2v29.6h-2.2zM1591.6 1477.8h2.2v134.2h-2.2zM1595.3 1480.2h2.2v131.8h-2.2zM1597.2 1589.6h2.2v22.4h-2.2zM1599.1 1612.0h2.2v17.5h-2.2zM1601.0 1575.1h2.2v36.9h-2.2zM1604.8 1605.3h2.2v6.7h-2.2zM1606.7 1606.0h2.2v6.0h-2.2zM1610.5 1612.0h2.2v62.2h-2.2zM1612.4 1612.0h2.2v1.2h-2.2zM1614.3 1612.0h2.2v7.8h-2.2zM1619.9 1612.0h2.2v87.5h-2.2zM1621.8 1595.2h2.2v16.8h-2.2zM1625.6 1612.0h2.2v57.3h-2.2zM1627.5 1600.5h2.2v11.5h-2.2zM1629.4 1612.0h2.2v2.5h-2.2zM1633.2 1612.0h2.2v12.6h-2.2zM1635.1 1592.8h2.2v19.2h-2.2zM1637.0 1384.9h2.2v227.1h-2.2zM1638.9 1612.0h2.2v22.3h-2.2zM1640.8 1612.0h2.2v1.8h-2.2zM1642.7 1602.9h2.2v9.1h-2.2zM1644.6 1600.5h2.2v11.5h-2.2zM1648.3 1612.0h2.2v52.5h-2.2zM1650.2 1598.1h2.2v13.9h-2.2zM1652.1 1612.0h2.2v36.8h-2.2zM1654.0 1612.0h2.2v6.6h-2.2zM1655.9 1609.8h2.2v2.2h-2.2zM1657.8 1612.0h2.2v5.9h-2.2zM1659.7 1612.0h2.2v52.5h-2.2zM1661.6 1552.7h2.2v59.3h-2.2zM1663.5 1612.0h2.2v84.7h-2.2zM1665.4 1612.0h2.2v85.1h-2.2zM1667.3 1612.0h2.2v16.3h-2.2zM1669.2 1612.0h2.2v22.3h-2.2zM1671.0 1612.0h2.2v22.1h-2.2zM1672.9 1612.0h2.2v189.9h-2.2zM1674.8 1612.0h2.2v197.2h-2.2zM1676.7 1612.0h2.2v64.6h-2.2zM1678.6 1612.0h2.2v7.3h-2.2zM1680.5 1612.0h2.2v19.6h-2.2zM1682.4 1603.4h2.2v8.6h-2.2zM1684.3 1612.0h2.2v24.5h-2.2zM1686.2 1612.0h2.2v1.6h-2.2zM1688.1 1612.0h2.2v13.6h-2.2zM1690.0 1612.0h2.2v61.9h-2.2zM1691.9 1612.0h2.2v47.4h-2.2zM1695.7 1612.0h2.2v13.6h-2.2zM1697.5 1603.4h2.2v8.6h-2.2zM1699.4 1612.0h2.2v64.3h-2.2zM1703.2 1612.0h2.2v3.9h-2.2zM1705.1 1612.0h2.2v42.6h-2.2zM1707.0 1612.0h2.2v94.5h-2.2zM1710.8 1612.0h2.2v5.8h-2.2zM1712.7 1612.0h2.2v3.9h-2.2zM1714.6 1537.9h2.2v74.1h-2.2zM1716.5 1612.0h2.2v80.0h-2.2zM1720.3 1612.0h2.2v32.9h-2.2zM1722.1 1612.0h2.2v14.8h-2.2zM1724.0 1612.0h2.2v32.9h-2.2zM1725.9 1612.0h2.2v7.1h-2.2zM1727.8 1584.5h2.2v27.5h-2.2zM1729.7 1612.0h2.2v104.2h-2.2zM1731.6 1612.0h2.2v66.7h-2.2zM1733.5 1612.0h2.2v4.2h-2.2zM1735.4 1612.0h2.2v83.7h-2.2zM1737.3 1612.0h2.2v292.3h-2.2zM1739.2 1612.0h2.2v238.0h-2.2zM1741.1 1612.0h2.2v187.5h-2.2zM1743.0 1612.0h2.2v7.5h-2.2zM1744.9 1612.0h2.2v220.1h-2.2zM1746.8 1612.0h2.2v148.9h-2.2zM1748.6 1612.0h2.2v18.4h-2.2zM1750.5 1612.0h2.2v1.2h-2.2zM1752.4 1612.0h2.2v74.0h-2.2zM1754.3 1612.0h2.2v29.3h-2.2zM1756.2 1612.0h2.2v4.2h-2.2zM1760.0 1612.0h2.2v3.9h-2.2zM1761.9 1575.4h2.2v36.6h-2.2zM1763.8 1612.0h2.2v1.0h-2.2zM1765.7 1612.0h2.2v34.1h-2.2zM1767.6 1612.0h2.2v34.1h-2.2zM1769.5 1612.0h2.2v214.1h-2.2zM1771.4 1612.0h2.2v2.2h-2.2zM1773.2 1612.0h2.2v54.7h-2.2zM1777.0 1605.1h2.2v6.9h-2.2zM1778.9 1612.0h2.2v1.5h-2.2zM1780.8 1612.0h2.2v4.5h-2.2zM1782.7 1612.0h2.2v147.7h-2.2zM1784.6 1612.0h2.2v31.7h-2.2zM1786.5 1612.0h2.2v141.6h-2.2zM1788.4 1612.0h2.2v3.0h-2.2zM1790.3 1612.0h2.2v13.6h-2.2zM1792.2 1612.0h2.2v220.1h-2.2zM1794.1 1612.0h2.2v13.6h-2.2zM1797.9 1612.0h2.2v25.7h-2.2zM1799.7 1612.0h2.2v32.9h-2.2zM1803.5 1612.0h2.2v3.0h-2.2zM1805.4 1605.1h2.2v6.9h-2.2zM1807.3 1595.4h2.2v16.6h-2.2zM1809.2 1612.0h2.2v165.8h-2.2zM1811.1 1607.6h2.2v4.4h-2.2zM1813.0 1590.6h2.2v21.4h-2.2zM1814.9 1612.0h2.2v54.7h-2.2zM1816.8 1612.0h2.2v52.3h-2.2zM1818.7 1608.2h2.2v3.8h-2.2zM1820.6 1612.0h2.2v24.5h-2.2zM1822.5 1585.7h2.2v26.3h-2.2zM1824.3 1612.0h2.2v8.8h-2.2zM1826.2 1609.1h2.2v2.9h-2.2zM1830.0 1612.0h2.2v13.6h-2.2zM1831.9 1612.0h2.2v29.3h-2.2zM1833.8 1612.0h2.2v0.7h-2.2zM1835.7 1612.0h2.2v8.8h-2.2zM1839.5 1600.2h2.2v11.8h-2.2zM1843.3 1608.7h2.2v3.3h-2.2zM1845.2 1600.2h2.2v11.8h-2.2zM1847.1 1555.6h2.2v56.4h-2.2zM1849.0 1612.0h2.2v17.2h-2.2zM1850.8 1612.0h2.2v8.8h-2.2zM1852.7 1600.2h2.2v11.8h-2.2zM1854.6 1612.0h2.2v2.7h-2.2zM1856.5 1611.1h2.2v0.9h-2.2zM1858.4 1612.0h2.2v8.8h-2.2zM1860.3 1612.0h2.2v11.2h-2.2zM1862.2 1611.1h2.2v0.9h-2.2zM1864.1 1612.0h2.2v76.4h-2.2zM1866.0 1612.0h2.2v75.0h-2.2zM1869.8 1608.2h2.2v3.8h-2.2zM1871.7 1612.0h2.2v32.9h-2.2zM1875.4 1612.0h2.2v6.4h-2.2zM1877.3 1612.0h2.2v12.4h-2.2zM1879.2 1609.6h2.2v2.4h-2.2zM1881.1 1590.6h2.2v21.4h-2.2zM1884.9 1612.0h2.2v57.6h-2.2zM1886.8 1588.2h2.2v23.8h-2.2zM1888.7 1612.0h2.2v8.8h-2.2zM1890.6 1612.0h2.2v6.4h-2.2zM1892.5 1612.0h2.2v13.6h-2.2zM1894.4 1590.6h2.2v21.4h-2.2zM1898.2 1611.0h2.2v1.0h-2.2zM1900.1 1612.0h2.2v52.3h-2.2zM1901.9 1612.0h2.2v16.0h-2.2zM1903.8 1612.0h2.2v1.4h-2.2zM1905.7 1595.4h2.2v16.6h-2.2zM1907.6 1608.2h2.2v3.8h-2.2zM1909.5 1611.1h2.2v0.9h-2.2zM1913.3 1612.0h2.2v36.6h-2.2zM1915.2 1612.0h2.2v22.1h-2.2zM1917.1 1612.0h2.2v80.0h-2.2zM1920.9 1612.0h2.2v1.4h-2.2zM1922.8 1612.0h2.2v8.8h-2.2zM1924.7 1612.0h2.2v35.3h-2.2zM1926.6 1612.0h2.2v13.6h-2.2zM1928.4 1612.0h2.2v3.9h-2.2zM1930.3 1612.0h2.2v11.2h-2.2zM1936.0 1611.2h2.2v0.8h-2.2zM1937.9 1612.0h2.2v0.6h-2.2zM1939.8 1605.1h2.2v6.9h-2.2zM1945.5 1612.0h2.2v17.2h-2.2zM1947.4 1612.0h2.2v1.9h-2.2zM1949.3 1611.1h2.2v0.9h-2.2zM1953.0 1612.0h2.2v1.8h-2.2zM1954.9 1612.0h2.2v10.0h-2.2zM1958.7 1612.0h2.2v0.8h-2.2zM1960.6 1612.0h2.2v45.0h-2.2zM1964.4 1612.0h2.2v14.8h-2.2zM1966.3 1612.0h2.2v6.4h-2.2zM1968.2 1610.6h2.2v1.4h-2.2zM1970.1 1611.0h2.2v1.0h-2.2zM1972.0 1609.9h2.2v2.1h-2.2zM1977.7 1612.0h2.2v24.0h-2.2zM1981.4 1612.0h2.2v0.9h-2.2zM1983.3 1612.0h2.2v4.7h-2.2zM1987.1 1609.4h2.2v2.6h-2.2zM1989.0 1611.2h2.2v0.8h-2.2zM1992.8 1602.2h2.2v9.8h-2.2zM1994.7 1597.3h2.2v14.7h-2.2zM1998.5 1607.0h2.2v5.0h-2.2zM2000.4 1608.2h2.2v3.8h-2.2zM2002.3 1612.0h2.2v14.3h-2.2zM2004.1 1609.8h2.2v2.2h-2.2zM2009.8 1522.5h2.2v89.5h-2.2zM2011.7 1612.0h2.2v14.3h-2.2zM2017.4 1612.0h2.2v42.1h-2.2zM2019.3 1612.0h2.2v34.9h-2.2zM2023.1 1612.0h2.2v26.4h-2.2zM2025.0 1612.0h2.2v34.9h-2.2zM2026.9 1612.0h2.2v7.1h-2.2zM2028.8 1612.0h2.2v2.6h-2.2zM2030.6 1612.0h2.2v26.4h-2.2zM2032.5 1612.0h2.2v51.8h-2.2zM2034.4 1612.0h2.2v216.3h-2.2zM2036.3 1612.0h2.2v5.1h-2.2zM2038.2 1612.0h2.2v30.0h-2.2zM2040.1 1612.0h2.2v7.1h-2.2zM2042.0 1612.0h2.2v67.5h-2.2zM2045.8 1612.0h2.2v69.9h-2.2zM2047.7 1612.0h2.2v21.6h-2.2zM2049.6 1612.0h2.2v24.0h-2.2zM2051.5 1612.0h2.2v3.0h-2.2zM2053.4 1612.0h2.2v44.5h-2.2zM2055.2 1612.0h2.2v7.1h-2.2zM2057.1 1612.0h2.2v51.8h-2.2zM2059.0 1612.0h2.2v13.1h-2.2zM2060.9 1612.0h2.2v1.0h-2.2zM2062.8 1612.0h2.2v7.1h-2.2zM2064.7 1612.0h2.2v34.9h-2.2zM2068.5 1612.0h2.2v31.2h-2.2zM2070.4 1612.0h2.2v204.3h-2.2zM2072.3 1612.0h2.2v44.5h-2.2zM2074.2 1612.0h2.2v7.1h-2.2zM2076.1 1612.0h2.2v1.0h-2.2zM2079.9 1612.0h2.2v9.5h-2.2zM2085.5 1612.0h2.2v31.2h-2.2zM2087.4 1612.0h2.2v16.7h-2.2zM2091.2 1612.0h2.2v2.3h-2.2zM2095.0 1612.0h2.2v92.3h-2.2zM2096.9 1612.0h2.2v5.1h-2.2zM2098.8 1612.0h2.2v4.4h-2.2zM2100.7 1612.0h2.2v0.8h-2.2zM2102.6 1612.0h2.2v9.5h-2.2zM2104.5 1612.0h2.2v3.1h-2.2zM2106.3 1612.0h2.2v7.9h-2.2zM2108.2 1612.0h2.2v39.7h-2.2zM2110.1 1612.0h2.2v6.1h-2.2zM2112.0 1612.0h2.2v72.3h-2.2zM2115.8 1612.0h2.2v1.5h-2.2zM2117.7 1612.0h2.2v3.5h-2.2zM2119.6 1612.0h2.2v22.8h-2.2zM2123.4 1612.0h2.2v3.7h-2.2zM2125.3 1612.0h2.2v11.9h-2.2zM2129.1 1612.0h2.2v30.0h-2.2zM2134.7 1612.0h2.2v0.6h-2.2zM2140.4 1612.0h2.2v7.1h-2.2zM2142.3 1605.8h2.2v6.2h-2.2zM2144.2 1604.6h2.2v7.4h-2.2zM2148.0 1598.6h2.2v13.4h-2.2zM2149.9 1587.7h2.2v24.3h-2.2zM2151.8 1610.5h2.2v1.5h-2.2zM2155.6 1605.8h2.2v6.2h-2.2zM2157.4 1598.6h2.2v13.4h-2.2zM2159.3 1598.6h2.2v13.4h-2.2zM2161.2 1610.5h2.2v1.5h-2.2zM2163.1 1603.4h2.2v8.6h-2.2zM2165.0 1603.4h2.2v8.6h-2.2zM2166.9 1597.3h2.2v14.7h-2.2zM2168.8 1612.0h2.2v57.6h-2.2zM2170.7 1612.0h2.2v56.6h-2.2zM2172.6 1610.7h2.2v1.3h-2.2zM2174.5 1608.2h2.2v3.8h-2.2zM2176.4 1603.4h2.2v8.6h-2.2zM2178.3 1611.3h2.2v0.7h-2.2zM2180.2 1587.7h2.2v24.3h-2.2zM2182.1 1593.7h2.2v18.3h-2.2zM2183.9 1593.7h2.2v18.3h-2.2zM2185.8 1610.3h2.2v1.7h-2.2zM2189.6 1604.6h2.2v7.4h-2.2zM2191.5 1610.7h2.2v1.3h-2.2zM2193.4 1611.4h2.2v0.6h-2.2zM2195.3 1596.1h2.2v15.9h-2.2zM2197.2 1612.0h2.2v9.5h-2.2zM2199.1 1610.6h2.2v1.4h-2.2zM2202.9 1610.3h2.2v1.7h-2.2zM2204.8 1599.8h2.2v12.2h-2.2zM2206.7 1601.0h2.2v11.0h-2.2zM2210.4 1611.0h2.2v1.0h-2.2zM2212.3 1608.2h2.2v3.8h-2.2zM2218.0 1608.2h2.2v3.8h-2.2zM2219.9 1612.0h2.2v10.7h-2.2zM2221.8 1612.0h2.2v11.9h-2.2zM2223.7 1612.0h2.2v1.5h-2.2zM2227.5 1608.2h2.2v3.8h-2.2zM2229.4 1612.0h2.2v69.9h-2.2zM2231.3 1610.3h2.2v1.7h-2.2zM2233.2 1612.0h2.2v46.9h-2.2zM2235.0 1610.5h2.2v1.5h-2.2zM2236.9 1608.2h2.2v3.8h-2.2zM2240.7 1612.0h2.2v55.4h-2.2zM2242.6 1612.0h2.2v0.9h-2.2zM2244.5 1612.0h2.2v7.1h-2.2zM2250.2 1612.0h2.2v19.9h-2.2zM2252.1 1612.0h2.2v2.2h-2.2zM2254.0 1594.9h2.2v17.1h-2.2zM2255.9 1595.2h2.2v16.8h-2.2zM2257.8 1575.1h2.2v36.9h-2.2zM2259.6 1602.9h2.2v9.1h-2.2zM2261.5 1612.0h2.2v3.9h-2.2zM2263.4 1523.2h2.2v88.8h-2.2zM2265.3 1612.0h2.2v10.2h-2.2zM2267.2 1587.9h2.2v24.1h-2.2zM2269.1 1609.7h2.2v2.3h-2.2zM2271.0 1590.3h2.2v21.7h-2.2zM2272.9 1600.5h2.2v11.5h-2.2zM2274.8 1587.9h2.2v24.1h-2.2zM2276.7 1612.0h2.2v3.0h-2.2zM2278.6 1609.6h2.2v2.4h-2.2zM2280.5 1600.5h2.2v11.5h-2.2zM2284.3 1605.3h2.2v6.7h-2.2zM2289.9 1595.2h2.2v16.8h-2.2zM2293.7 1610.4h2.2v1.6h-2.2zM2295.6 1600.5h2.2v11.5h-2.2zM2297.5 1602.9h2.2v9.1h-2.2zM2299.4 1612.0h2.2v29.5h-2.2zM2301.3 1612.0h2.2v3.0h-2.2zM2303.2 1612.0h2.2v15.1h-2.2zM2307.0 1605.3h2.2v6.7h-2.2zM2308.9 1595.2h2.2v16.8h-2.2zM2310.7 1612.0h2.2v0.8h-2.2zM2312.6 1600.5h2.2v11.5h-2.2zM2314.5 1590.8h2.2v21.2h-2.2zM2318.3 1605.3h2.2v6.7h-2.2zM2320.2 1609.9h2.2v2.1h-2.2zM2322.1 1612.0h2.2v7.8h-2.2zM2325.9 1567.4h2.2v44.6h-2.2zM2327.8 1610.5h2.2v1.5h-2.2zM2329.7 1610.7h2.2v1.3h-2.2zM2331.6 1607.7h2.2v4.3h-2.2zM2337.2 1607.7h2.2v4.3h-2.2zM2341.0 1610.9h2.2v1.1h-2.2zM2342.9 1602.9h2.2v9.1h-2.2zM2344.8 1612.0h2.2v1.4h-2.2zM2346.7 1612.0h2.2v4.2h-2.2zM2350.5 1611.3h2.2v0.7h-2.2zM2352.4 1610.9h2.2v1.1h-2.2zM2358.1 1610.9h2.2v1.1h-2.2zM2360.0 1612.0h2.2v0.7h-2.2zM2369.4 1605.3h2.2v6.7h-2.2zM2373.2 1610.8h2.2v1.2h-2.2zM2375.1 1611.1h2.2v0.9h-2.2zM2380.8 1611.2h2.2v0.8h-2.2zM2384.6 1607.7h2.2v4.3h-2.2zM2386.5 1610.6h2.2v1.4h-2.2zM2388.3 1477.8h2.2v134.2h-2.2zM2390.2 1600.5h2.2v11.5h-2.2zM2394.0 1610.5h2.2v1.5h-2.2zM2395.9 1605.3h2.2v6.7h-2.2zM2399.7 1602.9h2.2v9.1h-2.2zM2401.6 1605.3h2.2v6.7h-2.2zM2407.3 1595.2h2.2v16.8h-2.2zM2412.9 1607.7h2.2v4.3h-2.2zM2420.5 1607.7h2.2v4.3h-2.2zM2424.3 1610.0h2.2v2.0h-2.2zM2428.1 1612.0h2.2v7.8h-2.2zM2430.0 1590.3h2.2v21.7h-2.2zM2431.9 1612.0h2.2v12.6h-2.2zM2435.7 1610.9h2.2v1.1h-2.2zM2437.6 1610.6h2.2v1.4h-2.2zM2439.4 1590.3h2.2v21.7h-2.2zM2443.2 1608.9h2.2v3.1h-2.2zM2445.1 1580.0h2.2v32.0h-2.2zM2447.0 1600.5h2.2v11.5h-2.2zM2448.9 1609.6h2.2v2.4h-2.2zM2450.8 1598.1h2.2v13.9h-2.2zM2452.7 1600.5h2.2v11.5h-2.2zM2454.6 1590.8h2.2v21.2h-2.2zM2456.5 1612.0h2.2v0.6h-2.2zM2458.4 1540.1h2.2v71.9h-2.2zM2460.3 1612.0h2.2v48.9h-2.2zM2462.2 1602.9h2.2v9.1h-2.2zM2464.0 1607.7h2.2v4.3h-2.2zM2465.9 1612.0h2.2v2.2h-2.2zM2467.8 1609.1h2.2v2.9h-2.2zM2469.7 1602.9h2.2v9.1h-2.2zM2471.6 1612.0h2.2v47.7h-2.2zM2473.5 1610.7h2.2v1.3h-2.2zM2475.4 1612.0h2.2v1.8h-2.2zM2479.2 1610.1h2.2v1.9h-2.2zM2481.1 1609.1h2.2v2.9h-2.2zM2483.0 1590.8h2.2v21.2h-2.2zM2484.9 1592.0h2.2v20.0h-2.2zM2486.8 1612.0h2.2v22.3h-2.2zM2488.7 1609.2h2.2v2.8h-2.2zM2490.5 1609.9h2.2v2.1h-2.2zM2494.3 1590.8h2.2v21.2h-2.2zM2496.2 1608.0h2.2v4.0h-2.2zM2498.1 1612.0h2.2v2.4h-2.2zM2500.0 1612.0h2.2v45.2h-2.2zM2501.9 1605.3h2.2v6.7h-2.2zM2503.8 1612.0h2.2v4.6h-2.2zM2505.7 1612.0h2.2v2.2h-2.2zM2507.6 1612.0h2.2v4.2h-2.2zM2509.5 1612.0h2.2v1.6h-2.2zM2511.4 1612.0h2.2v82.7h-2.2zM2515.1 1612.0h2.2v262.4h-2.2zM2520.8 1612.0h2.2v10.2h-2.2zM2522.7 1612.0h2.2v1.3h-2.2zM2524.6 1612.0h2.2v37.0h-2.2zM2528.4 1612.0h2.2v2.8h-2.2zM2530.3 1610.4h2.2v1.6h-2.2zM2534.1 1612.0h2.2v1.3h-2.2zM2536.0 1612.0h2.2v15.1h-2.2zM2537.9 1605.3h2.2v6.7h-2.2zM2539.8 1612.0h2.2v4.2h-2.2zM2543.5 1612.0h2.2v1.0h-2.2zM2545.4 1607.7h2.2v4.3h-2.2zM2554.9 1608.2h2.2v3.8h-2.2zM2560.6 1612.0h2.2v5.4h-2.2zM2562.5 1612.0h2.2v9.0h-2.2zM2564.4 1612.0h2.2v13.8h-2.2zM2566.2 1612.0h2.2v0.7h-2.2zM2568.1 1612.0h2.2v23.5h-2.2zM2570.0 1612.0h2.2v5.4h-2.2zM2575.7 1612.0h2.2v5.4h-2.2zM2579.5 1612.0h2.2v7.8h-2.2zM2583.3 1612.0h2.2v1.4h-2.2zM2587.1 1612.0h2.2v5.4h-2.2zM2590.9 1612.0h2.2v11.4h-2.2zM2592.7 1612.0h2.2v1.6h-2.2zM2594.6 1612.0h2.2v3.0h-2.2zM2596.5 1612.0h2.2v1.6h-2.2zM2598.4 1612.0h2.2v1.2h-2.2zM2602.2 1612.0h2.2v9.0h-2.2zM2604.1 1610.8h2.2v1.2h-2.2zM2606.0 1592.8h2.2v19.2h-2.2zM2607.9 1609.5h2.2v2.5h-2.2zM2609.8 1608.2h2.2v3.8h-2.2zM2613.6 1597.6h2.2v14.4h-2.2zM2615.5 1555.3h2.2v56.7h-2.2zM2619.2 1610.6h2.2v1.4h-2.2zM2623.0 1611.1h2.2v0.9h-2.2zM2624.9 1610.6h2.2v1.4h-2.2zM2626.8 1609.6h2.2v2.4h-2.2zM2632.5 1610.7h2.2v1.3h-2.2zM2634.4 1602.4h2.2v9.6h-2.2zM2636.3 1609.3h2.2v2.7h-2.2zM2640.1 1612.0h2.2v19.9h-2.2zM2642.0 1605.3h2.2v6.7h-2.2zM2645.7 1611.0h2.2v1.0h-2.2zM2647.6 1598.1h2.2v13.9h-2.2zM2649.5 1589.6h2.2v22.4h-2.2zM2653.3 1580.0h2.2v32.0h-2.2zM2655.2 1612.0h2.2v3.0h-2.2zM2657.1 1612.0h2.2v2.5h-2.2zM2659.0 1612.0h2.2v1.2h-2.2zM2660.9 1611.2h2.2v0.8h-2.2zM2664.7 1608.2h2.2v3.8h-2.2zM2666.6 1612.0h2.2v1.5h-2.2zM2670.3 1612.0h2.2v5.5h-2.2zM2677.9 1609.4h2.2v2.6h-2.2zM2679.8 1550.2h2.2v61.8h-2.2zM2681.7 1603.5h2.2v8.5h-2.2zM2683.6 1565.5h2.2v46.5h-2.2zM2685.5 1522.7h2.2v89.3h-2.2zM2687.4 1590.3h2.2v21.7h-2.2zM2689.3 1605.3h2.2v6.7h-2.2zM2691.2 1606.5h2.2v5.5h-2.2zM2693.1 1600.5h2.2v11.5h-2.2zM2694.9 1523.2h2.2v88.8h-2.2zM2696.8 1567.9h2.2v44.1h-2.2zM2700.6 1590.3h2.2v21.7h-2.2zM2702.5 1610.0h2.2v2.0h-2.2zM2704.4 1600.5h2.2v11.5h-2.2zM2708.2 1593.2h2.2v18.8h-2.2zM2710.1 1587.9h2.2v24.1h-2.2zM2712.0 1587.9h2.2v24.1h-2.2zM2713.9 1602.9h2.2v9.1h-2.2zM2715.8 1608.0h2.2v4.0h-2.2zM2717.7 1606.5h2.2v5.5h-2.2zM2719.5 1608.9h2.2v3.1h-2.2zM2723.3 1583.1h2.2v28.9h-2.2zM2725.2 1585.5h2.2v26.5h-2.2zM2727.1 1611.1h2.2v0.9h-2.2zM2730.9 1612.0h2.2v1.8h-2.2zM2732.8 1587.9h2.2v24.1h-2.2zM2734.7 1598.1h2.2v13.9h-2.2zM2736.6 1605.3h2.2v6.7h-2.2zM2740.4 1598.1h2.2v13.9h-2.2zM2742.3 1609.8h2.2v2.2h-2.2zM2746.0 1608.4h2.2v3.6h-2.2zM2747.9 1592.8h2.2v19.2h-2.2zM2749.8 1550.2h2.2v61.8h-2.2zM2751.7 1567.9h2.2v44.1h-2.2zM2755.5 1593.2h2.2v18.8h-2.2zM2757.4 1552.7h2.2v59.3h-2.2zM2759.3 1543.0h2.2v69.0h-2.2zM2763.1 1544.9h2.2v67.1h-2.2zM2765.0 1543.0h2.2v69.0h-2.2zM2766.9 1598.1h2.2v13.9h-2.2zM2770.6 1598.1h2.2v13.9h-2.2zM2772.5 1585.5h2.2v26.5h-2.2zM2774.4 1557.5h2.2v54.5h-2.2zM2778.2 1585.5h2.2v26.5h-2.2zM2780.1 1555.3h2.2v56.7h-2.2zM2782.0 1593.2h2.2v18.8h-2.2zM2783.9 1560.1h2.2v51.9h-2.2zM2787.7 1587.2h2.2v24.8h-2.2zM2789.6 1570.3h2.2v41.7h-2.2zM2791.5 1610.0h2.2v2.0h-2.2zM2793.4 1590.3h2.2v21.7h-2.2zM2795.3 1587.9h2.2v24.1h-2.2zM2799.0 1532.9h2.2v79.1h-2.2zM2800.9 1604.9h2.2v7.1h-2.2zM2802.8 1513.0h2.2v99.0h-2.2zM2804.7 1510.6h2.2v101.4h-2.2zM2806.6 1590.3h2.2v21.7h-2.2zM2808.5 1605.7h2.2v6.3h-2.2zM2810.4 1598.1h2.2v13.9h-2.2zM2812.3 1565.5h2.2v46.5h-2.2zM2814.2 1555.3h2.2v56.7h-2.2zM2819.9 1547.8h2.2v64.2h-2.2zM2821.7 1606.6h2.2v5.4h-2.2zM2823.6 1609.4h2.2v2.6h-2.2zM2825.5 1598.1h2.2v13.9h-2.2zM2827.4 1570.3h2.2v41.7h-2.2zM2829.3 1562.6h2.2v49.4h-2.2zM2831.2 1609.5h2.2v2.5h-2.2zM2833.1 1602.4h2.2v9.6h-2.2zM2835.0 1602.4h2.2v9.6h-2.2zM2836.9 1610.9h2.2v1.1h-2.2zM2840.7 1391.1h2.2v220.9h-2.2zM2842.6 1597.6h2.2v14.4h-2.2zM2844.5 1600.0h2.2v12.0h-2.2zM2846.4 1611.0h2.2v1.0h-2.2zM2848.2 1610.8h2.2v1.2h-2.2zM2850.1 1608.4h2.2v3.6h-2.2zM2852.0 1575.1h2.2v36.9h-2.2zM2855.8 1609.3h2.2v2.7h-2.2zM2857.7 1592.8h2.2v19.2h-2.2zM2859.6 1602.4h2.2v9.6h-2.2zM2861.5 1612.0h2.2v2.9h-2.2zM2865.3 1587.9h2.2v24.1h-2.2zM2867.2 1570.3h2.2v41.7h-2.2zM2869.1 1612.0h2.2v4.9h-2.2zM2871.0 1608.2h2.2v3.8h-2.2zM2872.8 1612.0h2.2v2.5h-2.2zM2874.7 1612.0h2.2v2.9h-2.2zM2876.6 1587.9h2.2v24.1h-2.2zM2880.4 1612.0h2.2v2.0h-2.2zM2882.3 1590.3h2.2v21.7h-2.2zM2884.2 1580.7h2.2v31.3h-2.2zM2888.0 1608.1h2.2v3.9h-2.2zM2889.9 1530.0h2.2v82.0h-2.2zM2891.8 1592.8h2.2v19.2h-2.2zM2893.7 1610.8h2.2v1.2h-2.2zM2895.6 1520.3h2.2v91.7h-2.2zM2897.5 1587.9h2.2v24.1h-2.2zM2899.3 1607.7h2.2v4.3h-2.2zM2903.1 1592.8h2.2v19.2h-2.2zM2905.0 1590.3h2.2v21.7h-2.2zM2906.9 1603.6h2.2v8.4h-2.2zM2908.8 1610.0h2.2v2.0h-2.2zM2910.7 1500.2h2.2v111.8h-2.2zM2912.6 1467.9h2.2v144.1h-2.2zM2914.5 1609.7h2.2v2.3h-2.2zM2918.3 1595.2h2.2v16.8h-2.2zM2920.2 1465.5h2.2v146.5h-2.2zM2922.1 727.7h2.2v884.3h-2.2zM2924.0 1604.5h2.2v7.5h-2.2zM2925.8 1515.5h2.2v96.5h-2.2zM2927.7 1611.1h2.2v0.9h-2.2zM2929.6 1414.7h2.2v197.3h-2.2zM2931.5 1609.7h2.2v2.3h-2.2zM2933.4 1235.2h2.2v376.8h-2.2zM2935.3 1475.6h2.2v136.4h-2.2zM2937.2 1087.4h2.2v524.6h-2.2zM2939.1 1572.7h2.2v39.3h-2.2zM2941.0 1603.1h2.2v8.9h-2.2zM2942.9 1587.9h2.2v24.1h-2.2zM2944.8 1207.6h2.2v404.4h-2.2zM2946.7 1307.0h2.2v305.0h-2.2zM2950.4 1557.7h2.2v54.3h-2.2zM2952.3 1552.9h2.2v59.1h-2.2zM2954.2 1601.2h2.2v10.8h-2.2zM2956.1 1610.2h2.2v1.8h-2.2zM2958.0 1592.8h2.2v19.2h-2.2zM2959.9 1612.0h2.2v64.7h-2.2zM2961.8 1543.2h2.2v68.8h-2.2zM2963.7 1606.4h2.2v5.6h-2.2zM2965.6 1612.0h2.2v12.2h-2.2zM2967.5 395.1h2.2v1216.9h-2.2zM2969.4 1120.4h2.2v491.6h-2.2zM2973.2 1555.3h2.2v56.7h-2.2zM2975.1 1572.7h2.2v39.3h-2.2zM2976.9 1578.3h2.2v33.7h-2.2zM2980.7 1602.4h2.2v9.6h-2.2zM2982.6 1600.0h2.2v12.0h-2.2zM2986.4 1610.8h2.2v1.2h-2.2zM2988.3 1528.3h2.2v83.7h-2.2zM2990.2 1600.0h2.2v12.0h-2.2zM2994.0 1604.8h2.2v7.2h-2.2zM2995.9 1610.4h2.2v1.6h-2.2zM2997.8 1528.3h2.2v83.7h-2.2zM2999.7 1600.0h2.2v12.0h-2.2zM3001.5 1595.2h2.2v16.8h-2.2zM3003.4 1612.0h2.2v2.6h-2.2zM3005.3 1587.9h2.2v24.1h-2.2zM3007.2 1612.0h2.2v17.0h-2.2zM3009.1 1612.0h2.2v17.0h-2.2zM3011.0 1612.0h2.2v3.7h-2.2zM3012.9 1612.0h2.2v13.4h-2.2zM3014.8 1612.0h2.2v29.3h-2.2zM3016.7 1533.1h2.2v78.9h-2.2zM3022.4 1572.7h2.2v39.3h-2.2zM3024.3 1608.7h2.2v3.3h-2.2zM3026.2 1606.4h2.2v5.6h-2.2zM3028.0 1612.0h2.2v4.9h-2.2zM3029.9 1587.9h2.2v24.1h-2.2zM3031.8 1578.3h2.2v33.7h-2.2zM3033.7 1608.8h2.2v3.2h-2.2zM3037.5 1585.5h2.2v26.5h-2.2zM3039.4 1612.0h2.2v79.8h-2.2zM3041.3 1612.0h2.2v1.5h-2.2zM3043.2 1612.0h2.2v9.7h-2.2zM3045.1 1610.1h2.2v1.9h-2.2zM3047.0 1607.8h2.2v4.2h-2.2zM3050.8 1600.0h2.2v12.0h-2.2zM3052.6 1612.0h2.2v7.3h-2.2zM3054.5 1612.0h2.2v7.3h-2.2zM3056.4 1612.0h2.2v3.0h-2.2zM3060.2 1609.8h2.2v2.2h-2.2zM3062.1 1590.3h2.2v21.7h-2.2zM3064.0 1612.0h2.2v0.6h-2.2zM3065.9 1595.2h2.2v16.8h-2.2zM3067.8 1575.1h2.2v36.9h-2.2zM3069.7 1550.5h2.2v61.5h-2.2zM3077.3 1490.1h2.2v121.9h-2.2zM3081.0 1587.9h2.2v24.1h-2.2zM3086.7 1565.0h2.2v47.0h-2.2zM3088.6 1610.9h2.2v1.1h-2.2zM3090.5 1590.3h2.2v21.7h-2.2zM3092.4 1557.7h2.2v54.3h-2.2zM3094.3 1591.5h2.2v20.5h-2.2zM3098.1 1590.3h2.2v21.7h-2.2zM3100.0 1595.2h2.2v16.8h-2.2zM3101.9 1493.0h2.2v119.0h-2.2zM3105.6 1555.3h2.2v56.7h-2.2zM3107.5 1550.5h2.2v61.5h-2.2zM3109.4 1575.1h2.2v36.9h-2.2zM3111.3 1609.0h2.2v3.0h-2.2zM3113.2 1608.0h2.2v4.0h-2.2zM3117.0 1587.9h2.2v24.1h-2.2zM3118.9 1612.0h2.2v6.1h-2.2zM3120.8 1592.8h2.2v19.2h-2.2zM3122.7 1612.0h2.2v7.3h-2.2zM3124.6 1575.1h2.2v36.9h-2.2zM3126.5 1612.0h2.2v3.7h-2.2zM3128.4 1608.9h2.2v3.1h-2.2zM3130.2 1612.0h2.2v7.3h-2.2zM3132.1 1565.0h2.2v47.0h-2.2zM3134.0 1612.0h2.2v21.8h-2.2zM3137.8 1612.0h2.2v8.5h-2.2zM3139.7 1457.5h2.2v154.5h-2.2zM3143.5 1612.0h2.2v29.1h-2.2zM3145.4 1612.0h2.2v19.4h-2.2zM3147.3 1495.4h2.2v116.6h-2.2zM3149.2 1612.0h2.2v17.0h-2.2zM3153.0 1610.8h2.2v1.2h-2.2zM3154.8 1577.5h2.2v34.5h-2.2zM3156.7 1612.0h2.2v7.3h-2.2zM3160.5 1612.0h2.2v12.2h-2.2zM3162.4 1497.8h2.2v114.2h-2.2zM3164.3 1612.0h2.2v2.5h-2.2zM3168.1 1607.2h2.2v4.8h-2.2zM3170.0 1612.0h2.2v52.0h-2.2zM3171.9 1537.9h2.2v74.1h-2.2zM3175.7 1612.0h2.2v7.3h-2.2zM3177.6 1604.8h2.2v7.2h-2.2zM3179.5 1597.6h2.2v14.4h-2.2zM3181.3 1557.7h2.2v54.3h-2.2zM3183.2 1612.0h2.2v3.6h-2.2zM3185.1 1478.0h2.2v134.0h-2.2zM3187.0 1555.3h2.2v56.7h-2.2zM3190.8 1439.9h2.2v172.1h-2.2zM3194.6 1574.6h2.2v37.4h-2.2zM3196.5 1609.1h2.2v2.9h-2.2zM3198.4 1465.5h2.2v146.5h-2.2zM3200.3 1612.0h2.2v17.0h-2.2zM3202.2 1552.9h2.2v59.1h-2.2zM3204.1 1612.0h2.2v17.0h-2.2zM3205.9 1592.8h2.2v19.2h-2.2zM3209.7 1560.1h2.2v51.9h-2.2zM3211.6 1604.8h2.2v7.2h-2.2zM3215.4 1557.7h2.2v54.3h-2.2zM3217.3 1602.4h2.2v9.6h-2.2zM3219.2 1612.0h2.2v0.8h-2.2zM3221.1 1610.8h2.2v1.2h-2.2zM3223.0 1612.0h2.2v119.6h-2.2zM3224.9 1567.9h2.2v44.1h-2.2zM3226.8 1612.0h2.2v33.9h-2.2zM3228.7 1584.8h2.2v27.2h-2.2zM3230.6 1590.3h2.2v21.7h-2.2zM3232.4 1612.0h2.2v14.6h-2.2zM3234.3 1600.0h2.2v12.0h-2.2zM3236.2 1612.0h2.2v0.8h-2.2zM3238.1 1600.0h2.2v12.0h-2.2zM3240.0 1612.0h2.2v26.6h-2.2zM3241.9 1612.0h2.2v17.0h-2.2zM3245.7 1610.2h2.2v1.8h-2.2zM3247.6 1612.0h2.2v0.6h-2.2zM3249.5 1609.2h2.2v2.8h-2.2zM3251.4 1612.0h2.2v2.5h-2.2zM3255.2 1597.6h2.2v14.4h-2.2zM3258.9 1612.0h2.2v1.0h-2.2zM3262.7 1592.8h2.2v19.2h-2.2zM3264.6 1592.8h2.2v19.2h-2.2zM3266.5 1612.0h2.2v6.1h-2.2zM3268.4 1604.8h2.2v7.2h-2.2zM3270.3 1610.4h2.2v1.6h-2.2zM3272.2 1595.2h2.2v16.8h-2.2zM3279.8 1612.0h2.2v32.7h-2.2zM3281.7 1600.0h2.2v12.0h-2.2zM3285.4 1609.6h2.2v2.4h-2.2zM3287.3 1602.4h2.2v9.6h-2.2zM3289.2 1600.0h2.2v12.0h-2.2zM3291.1 1612.0h2.2v2.1h-2.2zM3293.0 1612.0h2.2v14.6h-2.2zM3294.9 1570.3h2.2v41.7h-2.2zM3298.7 1608.8h2.2v3.2h-2.2zM3302.5 1580.0h2.2v32.0h-2.2zM3304.4 1597.6h2.2v14.4h-2.2zM3308.1 1555.3h2.2v56.7h-2.2zM3310.0 1525.1h2.2v86.9h-2.2zM3311.9 1609.5h2.2v2.5h-2.2zM3313.8 1611.0h2.2v1.0h-2.2zM3315.7 1485.3h2.2v126.7h-2.2zM3317.6 1590.3h2.2v21.7h-2.2zM3319.5 1522.7h2.2v89.3h-2.2zM3321.4 1582.4h2.2v29.6h-2.2zM3325.2 1608.9h2.2v3.1h-2.2zM3327.1 1606.8h2.2v5.2h-2.2zM3329.0 1611.3h2.2v0.7h-2.2zM3330.9 1612.0h2.2v6.1h-2.2zM3332.8 1612.0h2.2v29.1h-2.2zM3334.6 1612.0h2.2v19.4h-2.2zM3338.4 1612.0h2.2v0.8h-2.2zM3340.3 1612.0h2.2v1.2h-2.2zM3342.2 532.5h2.2v1079.5h-2.2zM3344.1 1592.8h2.2v19.2h-2.2zM3346.0 1612.0h2.2v1.6h-2.2zM3347.9 1612.0h2.2v51.7h-2.2zM3349.8 1260.3h2.2v351.7h-2.2zM3351.7 1608.1h2.2v3.9h-2.2zM3353.6 1612.0h2.2v5.3h-2.2zM3355.5 1570.3h2.2v41.7h-2.2zM3357.4 1467.9h2.2v144.1h-2.2zM3359.2 1562.6h2.2v49.4h-2.2zM3363.0 1562.6h2.2v49.4h-2.2zM3364.9 1608.7h2.2v3.3h-2.2zM3366.8 1604.0h2.2v8.0h-2.2zM3370.6 1580.0h2.2v32.0h-2.2zM3372.5 1567.9h2.2v44.1h-2.2zM3374.4 1602.4h2.2v9.6h-2.2zM3376.3 1603.5h2.2v8.5h-2.2zM3378.2 1608.3h2.2v3.7h-2.2zM3382.0 1490.1h2.2v121.9h-2.2zM3383.9 1587.9h2.2v24.1h-2.2zM3387.6 1587.9h2.2v24.1h-2.2zM3389.5 1567.9h2.2v44.1h-2.2zM3391.4 1602.3h2.2v9.7h-2.2zM3393.3 1605.7h2.2v6.3h-2.2zM3395.2 1550.5h2.2v61.5h-2.2zM3397.1 1445.4h2.2v166.6h-2.2zM3399.0 1537.9h2.2v74.1h-2.2zM3402.8 1525.1h2.2v86.9h-2.2zM3404.7 1467.9h2.2v144.1h-2.2zM3406.6 1340.4h2.2v271.6h-2.2zM3408.5 1609.3h2.2v2.7h-2.2zM3410.3 1434.6h2.2v177.4h-2.2zM3412.2 1120.4h2.2v491.6h-2.2zM3414.1 1422.9h2.2v189.1h-2.2zM3416.0 1606.6h2.2v5.4h-2.2zM3417.9 1584.8h2.2v27.2h-2.2zM3419.8 1493.0h2.2v119.0h-2.2zM3421.7 1609.5h2.2v2.5h-2.2zM3423.6 1495.0h2.2v117.0h-2.2zM3425.5 1327.8h2.2v284.2h-2.2zM3427.4 1215.5h2.2v396.5h-2.2zM3429.3 1395.2h2.2v216.8h-2.2zM3433.1 1562.6h2.2v49.4h-2.2zM3435.0 1517.9h2.2v94.1h-2.2zM3436.8 1540.4h2.2v71.6h-2.2zM3440.6 1575.2h2.2v36.8h-2.2zM3442.5 1612.0h2.2v359.7h-2.2zM3444.4 1550.0h2.2v62.0h-2.2zM3446.3 1602.4h2.2v9.6h-2.2zM3448.2 1410.4h2.2v201.6h-2.2zM3450.1 1362.6h2.2v249.4h-2.2zM3452.0 1127.6h2.2v484.4h-2.2zM3453.9 1538.5h2.2v73.5h-2.2zM3455.8 1607.3h2.2v4.7h-2.2zM3457.7 1612.0h2.2v166.8h-2.2zM3459.6 1513.1h2.2v98.9h-2.2zM3463.3 1478.1h2.2v133.9h-2.2zM3465.2 1400.3h2.2v211.7h-2.2zM3467.1 1475.6h2.2v136.4h-2.2zM3470.9 1611.1h2.2v0.9h-2.2zM3472.8 1467.9h2.2v144.1h-2.2zM3474.7 1127.6h2.2v484.4h-2.2zM3476.6 1420.5h2.2v191.5h-2.2zM3478.5 1605.9h2.2v6.1h-2.2zM3480.4 997.7h2.2v614.3h-2.2zM3482.3 1440.6h2.2v171.4h-2.2zM3484.2 1610.0h2.2v2.0h-2.2zM3486.1 1583.1h2.2v28.9h-2.2zM3487.9 1606.5h2.2v5.5h-2.2zM3489.8 1350.0h2.2v262.0h-2.2zM3491.7 1520.3h2.2v91.7h-2.2zM3495.5 1550.0h2.2v62.0h-2.2zM3497.4 1445.4h2.2v166.6h-2.2zM3499.3 1172.4h2.2v439.6h-2.2zM3501.2 1606.9h2.2v5.1h-2.2zM3503.1 1562.6h2.2v49.4h-2.2zM3506.9 1365.1h2.2v246.9h-2.2zM3508.8 1609.6h2.2v2.4h-2.2zM3510.7 1609.2h2.2v2.8h-2.2zM3512.5 1557.8h2.2v54.2h-2.2zM3514.4 1420.5h2.2v191.5h-2.2zM3518.2 1602.5h2.2v9.5h-2.2zM3520.1 1612.0h2.2v57.0h-2.2zM3522.0 1603.3h2.2v8.7h-2.2zM3523.9 1608.1h2.2v3.9h-2.2zM3529.6 1470.3h2.2v141.7h-2.2zM3531.5 1577.1h2.2v34.9h-2.2zM3533.4 1608.5h2.2v3.5h-2.2zM3535.3 1472.7h2.2v139.3h-2.2zM3537.2 1542.8h2.2v69.2h-2.2zM3539.0 1552.9h2.2v59.1h-2.2zM3540.9 1603.5h2.2v8.5h-2.2zM3542.8 1550.0h2.2v62.0h-2.2zM3544.7 742.4h2.2v869.6h-2.2zM3546.6 1560.2h2.2v51.8h-2.2zM3548.5 1604.6h2.2v7.4h-2.2zM3550.4 1602.5h2.2v9.5h-2.2zM3552.3 1520.3h2.2v91.7h-2.2zM3554.2 1590.4h2.2v21.6h-2.2zM3556.1 1607.2h2.2v4.8h-2.2zM3558.0 1595.2h2.2v16.8h-2.2zM3559.9 1535.6h2.2v76.4h-2.2zM3563.6 1612.0h2.2v17.1h-2.2zM3565.5 1612.0h2.2v42.4h-2.2zM3567.4 1405.6h2.2v206.4h-2.2zM3569.3 1592.8h2.2v19.2h-2.2zM3573.1 1612.0h2.2v1.9h-2.2zM3575.0 1612.0h2.2v9.8h-2.2zM3576.9 1612.0h2.2v1.6h-2.2zM3578.8 1612.0h2.2v2.3h-2.2zM3580.7 1608.1h2.2v3.9h-2.2zM3582.6 1480.5h2.2v131.5h-2.2zM3584.5 1612.0h2.2v7.4h-2.2zM3586.4 1611.2h2.2v0.8h-2.2zM3588.3 1612.0h2.2v0.6h-2.2zM3590.1 1610.3h2.2v1.7h-2.2zM3595.8 1612.0h2.2v1.8h-2.2zM3597.7 1612.0h2.2v9.8h-2.2zM3599.6 1595.2h2.2v16.8h-2.2zM3605.3 1584.8h2.2v27.2h-2.2zM3607.2 1612.0h2.2v126.7h-2.2zM3609.1 1612.0h2.2v101.9h-2.2zM3611.0 1612.0h2.2v5.6h-2.2zM3612.9 1575.2h2.2v36.8h-2.2zM3614.7 1612.0h2.2v82.4h-2.2zM3616.6 1612.0h2.2v7.7h-2.2zM3618.5 1545.2h2.2v66.8h-2.2zM3620.4 1580.0h2.2v32.0h-2.2zM3622.3 1612.0h2.2v101.9h-2.2zM3624.2 1513.1h2.2v98.9h-2.2zM3626.1 1612.0h2.2v4.6h-2.2zM3628.0 1612.0h2.2v45.2h-2.2zM3629.9 1612.0h2.2v19.5h-2.2zM3631.8 1612.0h2.2v44.8h-2.2zM3633.7 1612.0h2.2v44.1h-2.2zM3635.6 1612.0h2.2v19.5h-2.2zM3637.5 1592.8h2.2v19.2h-2.2zM3639.4 1612.0h2.2v35.2h-2.2zM3641.2 1612.0h2.2v3.1h-2.2zM3643.1 1612.0h2.2v2.8h-2.2zM3645.0 1612.0h2.2v278.9h-2.2zM3646.9 1584.8h2.2v27.2h-2.2zM3650.7 1572.3h2.2v39.7h-2.2zM3652.6 1552.9h2.2v59.1h-2.2zM3654.5 1555.4h2.2v56.6h-2.2zM3656.4 1612.0h2.2v25.5h-2.2zM3658.3 1608.8h2.2v3.2h-2.2zM3660.2 1590.4h2.2v21.6h-2.2zM3662.1 1562.6h2.2v49.4h-2.2zM3664.0 1605.0h2.2v7.0h-2.2zM3665.8 1612.0h2.2v26.7h-2.2zM3667.7 1580.0h2.2v32.0h-2.2zM3669.6 1612.0h2.2v42.4h-2.2zM3671.5 1580.0h2.2v32.0h-2.2zM3673.4 1612.0h2.2v3.1h-2.2zM3675.3 1612.0h2.2v2.4h-2.2zM3677.2 1612.0h2.2v42.4h-2.2zM3679.1 1600.1h2.2v11.9h-2.2zM3682.9 1605.0h2.2v7.0h-2.2zM3684.8 1612.0h2.2v79.9h-2.2zM3686.7 1612.0h2.2v35.2h-2.2zM3688.6 1612.0h2.2v7.9h-2.2zM3690.5 1603.3h2.2v8.7h-2.2zM3692.3 1612.0h2.2v109.0h-2.2zM3694.2 1567.9h2.2v44.1h-2.2zM3698.0 1547.6h2.2v64.4h-2.2zM3699.9 1588.0h2.2v24.0h-2.2zM3703.7 1605.7h2.2v6.3h-2.2zM3705.6 1602.1h2.2v9.9h-2.2zM3707.5 1607.9h2.2v4.1h-2.2zM3711.3 1588.0h2.2v24.0h-2.2zM3713.2 1603.6h2.2v8.4h-2.2zM3715.1 1427.8h2.2v184.2h-2.2zM3716.9 1560.2h2.2v51.8h-2.2zM3718.8 1610.0h2.2v2.0h-2.2zM3720.7 1547.6h2.2v64.4h-2.2zM3722.6 1577.1h2.2v34.9h-2.2zM3724.5 1560.2h2.2v51.8h-2.2zM3726.4 1560.2h2.2v51.8h-2.2zM3728.3 1609.3h2.2v2.7h-2.2zM3730.2 1429.7h2.2v182.3h-2.2zM3732.1 1540.4h2.2v71.6h-2.2zM3734.0 1602.0h2.2v10.0h-2.2zM3735.9 1567.9h2.2v44.1h-2.2zM3739.7 1513.1h2.2v98.9h-2.2zM3741.6 1612.0h2.2v12.2h-2.2zM3743.4 1562.6h2.2v49.4h-2.2zM3745.3 1567.9h2.2v44.1h-2.2zM3747.2 1490.1h2.2v121.9h-2.2zM3749.1 1577.1h2.2v34.9h-2.2zM3752.9 1545.2h2.2v66.8h-2.2zM3754.8 1607.3h2.2v4.7h-2.2z" fill="#5f4af3" fill-opacity="0.78"/><path d="M280.0 1611.4h2.2v0.6h-2.2zM287.6 1600.0h2.2v12.0h-2.2zM306.5 1602.4h2.2v9.6h-2.2zM327.3 1612.0h2.2v7.3h-2.2zM334.9 1607.2h2.2v4.8h-2.2zM348.1 1610.6h2.2v1.4h-2.2zM353.8 1611.4h2.2v0.6h-2.2zM370.8 1610.9h2.2v1.1h-2.2zM372.7 1608.5h2.2v3.5h-2.2zM376.5 1607.3h2.2v4.7h-2.2zM380.3 1609.9h2.2v2.1h-2.2zM382.2 1540.1h2.2v71.9h-2.2zM386.0 1610.7h2.2v1.3h-2.2zM393.5 1609.4h2.2v2.6h-2.2zM414.4 1604.8h2.2v7.2h-2.2zM440.9 1607.2h2.2v4.8h-2.2zM448.4 1608.7h2.2v3.3h-2.2zM454.1 1607.1h2.2v4.9h-2.2zM456.0 1607.2h2.2v4.8h-2.2zM459.8 1552.4h2.2v59.6h-2.2zM461.7 1607.2h2.2v4.8h-2.2zM482.5 1609.7h2.2v2.3h-2.2zM493.9 1611.3h2.2v0.7h-2.2zM512.8 1612.0h2.2v0.7h-2.2zM527.9 1612.0h2.2v2.5h-2.2zM558.2 1611.3h2.2v0.7h-2.2zM577.1 1611.3h2.2v0.7h-2.2zM580.9 1607.2h2.2v4.8h-2.2zM588.5 1607.2h2.2v4.8h-2.2zM590.4 1611.3h2.2v0.7h-2.2zM607.4 1584.8h2.2v27.2h-2.2zM609.3 1602.4h2.2v9.6h-2.2zM611.2 1604.0h2.2v8.0h-2.2zM613.1 1609.9h2.2v2.1h-2.2zM628.2 1386.6h2.2v225.4h-2.2zM632.0 1565.2h2.2v46.8h-2.2zM650.9 1611.4h2.2v0.6h-2.2zM658.5 1594.7h2.2v17.3h-2.2zM662.3 1609.6h2.2v2.4h-2.2zM664.2 1611.2h2.2v0.8h-2.2zM668.0 1579.2h2.2v32.8h-2.2zM683.1 1573.0h2.2v39.0h-2.2zM688.8 1612.0h2.2v2.7h-2.2zM696.4 1612.0h2.2v4.5h-2.2zM700.1 1612.0h2.2v6.0h-2.2zM702.0 1472.0h2.2v140.0h-2.2zM709.6 1545.0h2.2v67.0h-2.2zM711.5 1492.2h2.2v119.8h-2.2zM717.2 1582.3h2.2v29.7h-2.2zM719.1 1608.3h2.2v3.7h-2.2zM721.0 1609.4h2.2v2.6h-2.2zM724.7 1599.4h2.2v12.6h-2.2zM726.6 1591.6h2.2v20.4h-2.2zM734.2 1501.6h2.2v110.4h-2.2zM738.0 1610.2h2.2v1.8h-2.2zM751.2 1573.0h2.2v39.0h-2.2zM756.9 1569.9h2.2v42.1h-2.2zM764.5 1588.5h2.2v23.5h-2.2zM768.3 1610.3h2.2v1.7h-2.2zM770.2 1610.5h2.2v1.5h-2.2zM772.1 1574.5h2.2v37.5h-2.2zM774.0 1612.0h2.2v9.1h-2.2zM775.8 1610.6h2.2v1.4h-2.2zM781.5 1612.0h2.2v2.0h-2.2zM787.2 1434.8h2.2v177.2h-2.2zM792.9 1612.0h2.2v3.4h-2.2zM796.7 1612.0h2.2v4.5h-2.2zM802.3 1541.9h2.2v70.1h-2.2zM804.2 1585.4h2.2v26.6h-2.2zM808.0 1609.3h2.2v2.7h-2.2zM809.9 1540.4h2.2v71.6h-2.2zM811.8 1546.6h2.2v65.4h-2.2zM817.5 1585.4h2.2v26.6h-2.2zM819.4 1594.7h2.2v17.3h-2.2zM826.9 1602.5h2.2v9.5h-2.2zM830.7 1610.4h2.2v1.6h-2.2zM832.6 1576.1h2.2v35.9h-2.2zM834.5 1585.4h2.2v26.6h-2.2zM840.2 1424.7h2.2v187.3h-2.2zM842.1 1612.0h2.2v7.6h-2.2zM844.0 1612.0h2.2v6.0h-2.2zM855.3 1612.0h2.2v7.6h-2.2zM857.2 1597.8h2.2v14.2h-2.2zM859.1 1612.0h2.2v1.1h-2.2zM864.8 1597.8h2.2v14.2h-2.2zM872.4 1582.3h2.2v29.7h-2.2zM883.7 1608.4h2.2v3.6h-2.2zM889.4 1608.2h2.2v3.8h-2.2zM895.1 1497.8h2.2v114.2h-2.2zM910.2 1510.2h2.2v101.8h-2.2zM915.9 1610.3h2.2v1.7h-2.2zM919.7 1472.0h2.2v140.0h-2.2zM927.3 1605.6h2.2v6.4h-2.2zM932.9 1594.7h2.2v17.3h-2.2zM940.5 1594.7h2.2v17.3h-2.2zM959.4 1608.8h2.2v3.2h-2.2zM961.3 1540.4h2.2v71.6h-2.2zM963.2 1611.2h2.2v0.8h-2.2zM967.0 1608.1h2.2v3.9h-2.2zM968.9 1608.6h2.2v3.4h-2.2zM972.7 1590.1h2.2v21.9h-2.2zM974.6 1571.4h2.2v40.6h-2.2zM976.5 1612.0h2.2v13.8h-2.2zM978.4 1569.9h2.2v42.1h-2.2zM980.2 1609.5h2.2v2.5h-2.2zM982.1 1582.3h2.2v29.7h-2.2zM984.0 1608.1h2.2v3.9h-2.2zM989.7 1612.0h2.2v2.0h-2.2zM991.6 1612.0h2.2v1.7h-2.2zM999.2 1612.0h2.2v115.7h-2.2zM1010.5 1514.0h2.2v98.0h-2.2zM1012.4 1612.0h2.2v4.5h-2.2zM1014.3 1612.0h2.2v10.7h-2.2zM1018.1 1612.0h2.2v15.3h-2.2zM1023.8 1612.0h2.2v1.5h-2.2zM1025.7 1612.0h2.2v16.9h-2.2zM1029.5 1612.0h2.2v9.1h-2.2zM1037.0 1612.0h2.2v148.3h-2.2zM1042.7 1612.0h2.2v24.6h-2.2zM1050.3 1607.1h2.2v4.9h-2.2zM1052.2 1612.0h2.2v2.2h-2.2zM1054.1 1612.0h2.2v69.1h-2.2zM1056.0 1612.0h2.2v69.5h-2.2zM1065.4 1612.0h2.2v2.7h-2.2zM1071.1 1612.0h2.2v2.9h-2.2zM1101.4 1612.0h2.2v3.2h-2.2zM1103.3 1612.0h2.2v3.9h-2.2zM1105.2 1612.0h2.2v1.7h-2.2zM1107.1 1612.0h2.2v69.5h-2.2zM1110.8 1612.0h2.2v17.0h-2.2zM1112.7 1272.3h2.2v339.7h-2.2zM1120.3 1612.0h2.2v1.4h-2.2zM1122.2 1604.8h2.2v7.2h-2.2zM1124.1 1611.4h2.2v0.6h-2.2zM1126.0 1612.0h2.2v3.6h-2.2zM1129.8 1560.1h2.2v51.9h-2.2zM1131.7 1572.2h2.2v39.8h-2.2zM1139.2 1608.8h2.2v3.2h-2.2zM1150.6 1591.5h2.2v20.5h-2.2zM1152.5 1611.0h2.2v1.0h-2.2zM1160.0 1610.9h2.2v1.1h-2.2zM1165.7 1507.0h2.2v105.0h-2.2zM1175.2 1607.1h2.2v4.9h-2.2zM1184.7 1574.6h2.2v37.4h-2.2zM1186.5 1610.7h2.2v1.3h-2.2zM1190.3 1610.2h2.2v1.8h-2.2zM1197.9 1608.3h2.2v3.7h-2.2zM1213.0 1612.0h2.2v0.8h-2.2zM1214.9 1612.0h2.2v30.3h-2.2zM1218.7 1612.0h2.2v0.8h-2.2zM1220.6 1602.4h2.2v9.6h-2.2zM1222.5 1612.0h2.2v14.6h-2.2zM1224.4 1595.2h2.2v16.8h-2.2zM1232.0 1612.0h2.2v1.3h-2.2zM1241.4 1612.0h2.2v35.1h-2.2zM1254.7 1601.2h2.2v10.8h-2.2zM1264.1 1608.3h2.2v3.7h-2.2zM1267.9 1420.0h2.2v192.0h-2.2zM1269.8 1609.0h2.2v3.0h-2.2zM1275.5 1608.8h2.2v3.2h-2.2zM1277.4 1607.4h2.2v4.6h-2.2zM1279.3 1547.6h2.2v64.4h-2.2zM1288.7 1612.0h2.2v4.7h-2.2zM1290.6 1482.4h2.2v129.6h-2.2zM1294.4 1530.0h2.2v82.0h-2.2zM1296.3 1612.0h2.2v17.0h-2.2zM1300.1 1612.0h2.2v1.6h-2.2zM1302.0 1602.4h2.2v9.6h-2.2zM1317.1 1542.8h2.2v69.2h-2.2zM1319.0 1608.8h2.2v3.2h-2.2zM1328.5 1577.1h2.2v34.9h-2.2zM1330.4 1602.4h2.2v9.6h-2.2zM1332.3 1565.0h2.2v47.0h-2.2zM1336.1 1612.0h2.2v15.8h-2.2zM1339.8 1602.4h2.2v9.6h-2.2zM1341.7 1612.0h2.2v21.8h-2.2zM1345.5 1610.5h2.2v1.5h-2.2zM1355.0 1612.0h2.2v26.6h-2.2zM1358.8 1612.0h2.2v2.6h-2.2zM1362.6 1612.0h2.2v46.0h-2.2zM1368.2 1587.9h2.2v24.1h-2.2zM1372.0 1612.0h2.2v17.0h-2.2zM1373.9 1611.3h2.2v0.7h-2.2zM1377.7 1612.0h2.2v37.5h-2.2zM1379.6 1605.3h2.2v6.7h-2.2zM1381.5 1610.9h2.2v1.1h-2.2zM1387.2 1612.0h2.2v77.9h-2.2zM1389.1 1610.1h2.2v1.9h-2.2zM1394.7 1612.0h2.2v15.1h-2.2zM1400.4 1612.0h2.2v5.4h-2.2zM1402.3 1612.0h2.2v15.1h-2.2zM1404.2 1610.8h2.2v1.2h-2.2zM1409.9 1598.1h2.2v13.9h-2.2zM1411.8 1551.0h2.2v61.0h-2.2zM1413.7 1610.6h2.2v1.4h-2.2zM1415.5 1602.9h2.2v9.1h-2.2zM1417.4 1612.0h2.2v7.8h-2.2zM1419.3 1595.7h2.2v16.3h-2.2zM1423.1 1612.0h2.2v17.5h-2.2zM1426.9 1612.0h2.2v75.4h-2.2zM1434.5 1612.0h2.2v10.2h-2.2zM1438.3 1610.1h2.2v1.9h-2.2zM1440.2 1612.0h2.2v19.9h-2.2zM1442.0 1611.1h2.2v0.9h-2.2zM1449.6 1602.9h2.2v9.1h-2.2zM1455.3 1612.0h2.2v1.0h-2.2zM1459.1 1612.0h2.2v12.6h-2.2zM1462.9 1612.0h2.2v5.4h-2.2zM1466.6 1612.0h2.2v40.4h-2.2zM1470.4 1612.0h2.2v39.2h-2.2zM1472.3 1606.5h2.2v5.5h-2.2zM1479.9 1600.5h2.2v11.5h-2.2zM1485.6 1607.7h2.2v4.3h-2.2zM1489.4 1611.2h2.2v0.8h-2.2zM1495.0 1590.8h2.2v21.2h-2.2zM1498.8 1598.1h2.2v13.9h-2.2zM1500.7 1610.8h2.2v1.2h-2.2zM1504.5 1612.0h2.2v12.6h-2.2zM1506.4 1570.3h2.2v41.7h-2.2zM1508.3 1610.9h2.2v1.1h-2.2zM1514.0 1602.9h2.2v9.1h-2.2zM1517.7 1612.0h2.2v1.0h-2.2zM1519.6 1612.0h2.2v10.2h-2.2zM1525.3 1612.0h2.2v16.3h-2.2zM1527.2 1612.0h2.2v17.5h-2.2zM1529.1 1602.9h2.2v9.1h-2.2zM1532.9 1612.0h2.2v22.3h-2.2zM1534.8 1585.5h2.2v26.5h-2.2zM1536.7 1611.1h2.2v0.9h-2.2zM1538.6 1612.0h2.2v1.6h-2.2zM1540.5 1593.2h2.2v18.8h-2.2zM1544.2 1567.4h2.2v44.6h-2.2zM1548.0 1612.0h2.2v22.3h-2.2zM1555.6 1612.0h2.2v1.6h-2.2zM1557.5 1612.0h2.2v62.2h-2.2zM1559.4 1612.0h2.2v2.9h-2.2zM1563.2 1612.0h2.2v4.1h-2.2zM1570.7 1611.2h2.2v0.8h-2.2zM1580.2 1612.0h2.2v5.4h-2.2zM1582.1 1582.4h2.2v29.6h-2.2zM1584.0 1589.6h2.2v22.4h-2.2zM1587.8 1241.9h2.2v370.1h-2.2zM1589.7 1590.8h2.2v21.2h-2.2zM1591.6 1540.1h2.2v71.9h-2.2zM1597.2 1612.0h2.2v9.0h-2.2zM1602.9 1606.5h2.2v5.5h-2.2zM1606.7 1605.3h2.2v6.7h-2.2zM1610.5 1612.0h2.2v21.1h-2.2zM1612.4 1612.0h2.2v34.4h-2.2zM1618.1 1607.7h2.2v4.3h-2.2zM1619.9 1452.7h2.2v159.3h-2.2zM1623.7 1612.0h2.2v1.3h-2.2zM1629.4 1610.6h2.2v1.4h-2.2zM1637.0 1600.0h2.2v12.0h-2.2zM1640.8 1610.6h2.2v1.4h-2.2zM1642.7 1612.0h2.2v19.9h-2.2zM1650.2 1610.9h2.2v1.1h-2.2zM1661.6 1605.3h2.2v6.7h-2.2zM1665.4 1611.2h2.2v0.8h-2.2zM1671.0 1612.0h2.2v18.4h-2.2zM1672.9 1612.0h2.2v97.2h-2.2zM1674.8 1612.0h2.2v98.1h-2.2zM1676.7 1612.0h2.2v1.3h-2.2zM1678.6 1612.0h2.2v2.4h-2.2zM1680.5 1612.0h2.2v2.3h-2.2zM1690.0 1612.0h2.2v2.1h-2.2zM1699.4 1612.0h2.2v1.3h-2.2zM1701.3 1612.0h2.2v0.7h-2.2zM1703.2 1612.0h2.2v2.2h-2.2zM1705.1 1612.0h2.2v2.0h-2.2zM1708.9 1612.0h2.2v4.2h-2.2zM1710.8 1612.0h2.2v1.5h-2.2zM1712.7 1612.0h2.2v4.7h-2.2zM1714.6 1612.0h2.2v30.5h-2.2zM1716.5 1612.0h2.2v214.1h-2.2zM1720.3 1612.0h2.2v1.7h-2.2zM1724.0 1612.0h2.2v66.7h-2.2zM1729.7 1612.0h2.2v1.5h-2.2zM1731.6 1612.0h2.2v1.5h-2.2zM1739.2 1612.0h2.2v6.4h-2.2zM1744.9 1612.0h2.2v32.9h-2.2zM1754.3 1612.0h2.2v1.4h-2.2zM1760.0 1612.0h2.2v0.7h-2.2zM1769.5 1612.0h2.2v69.2h-2.2zM1782.7 1612.0h2.2v145.6h-2.2zM1784.6 1612.0h2.2v3.6h-2.2zM1786.5 1612.0h2.2v122.3h-2.2zM1788.4 1612.0h2.2v145.6h-2.2zM1790.3 1612.0h2.2v1.4h-2.2zM1805.4 1612.0h2.2v8.8h-2.2zM1807.3 1612.0h2.2v174.4h-2.2zM1811.1 1612.0h2.2v177.1h-2.2zM1813.0 1612.0h2.2v176.6h-2.2zM1818.7 1612.0h2.2v2.1h-2.2zM1826.2 1612.0h2.2v2.8h-2.2zM1828.1 1612.0h2.2v0.7h-2.2zM1850.8 1612.0h2.2v0.7h-2.2zM1867.9 1611.0h2.2v1.0h-2.2zM1877.3 1611.1h2.2v0.9h-2.2zM1886.8 1612.0h2.2v0.8h-2.2zM1890.6 1612.0h2.2v0.7h-2.2zM1901.9 1612.0h2.2v8.8h-2.2zM1905.7 1612.0h2.2v1.9h-2.2zM1911.4 1612.0h2.2v0.8h-2.2zM1913.3 1612.0h2.2v0.9h-2.2zM1917.1 1612.0h2.2v22.1h-2.2zM1924.7 1612.0h2.2v22.1h-2.2zM1930.3 1612.0h2.2v1.0h-2.2zM1939.8 1612.0h2.2v2.0h-2.2zM1941.7 1611.4h2.2v0.6h-2.2zM1954.9 1612.0h2.2v0.9h-2.2zM1964.4 1612.0h2.2v0.6h-2.2zM1972.0 1612.0h2.2v0.8h-2.2zM1973.9 1611.0h2.2v1.0h-2.2zM1985.2 1611.0h2.2v1.0h-2.2zM1990.9 1612.0h2.2v1.0h-2.2zM2007.9 1612.0h2.2v11.9h-2.2zM2009.8 1602.2h2.2v9.8h-2.2zM2032.5 1612.0h2.2v7.1h-2.2zM2034.4 1612.0h2.2v186.4h-2.2zM2042.0 1612.0h2.2v39.7h-2.2zM2045.8 1612.0h2.2v19.2h-2.2zM2047.7 1573.2h2.2v38.8h-2.2zM2074.2 1611.1h2.2v0.9h-2.2zM2076.1 1611.0h2.2v1.0h-2.2zM2085.5 1611.2h2.2v0.8h-2.2zM2096.9 1612.0h2.2v0.7h-2.2zM2100.7 1612.0h2.2v1.0h-2.2zM2112.0 1612.0h2.2v10.7h-2.2zM2113.9 1611.4h2.2v0.6h-2.2zM2127.2 1590.1h2.2v21.9h-2.2zM2129.1 1612.0h2.2v22.8h-2.2zM2178.3 1610.4h2.2v1.6h-2.2zM2183.9 1594.9h2.2v17.1h-2.2zM2195.3 1612.0h2.2v0.6h-2.2zM2197.2 1612.0h2.2v4.7h-2.2zM2201.0 1612.0h2.2v0.7h-2.2zM2214.2 1611.3h2.2v0.7h-2.2zM2221.8 1605.8h2.2v6.2h-2.2zM2250.2 1612.0h2.2v0.9h-2.2zM2282.4 1547.8h2.2v64.2h-2.2zM2289.9 1609.8h2.2v2.2h-2.2zM2291.8 1611.1h2.2v0.9h-2.2zM2295.6 1610.8h2.2v1.2h-2.2zM2297.5 1610.2h2.2v1.8h-2.2zM2299.4 1612.0h2.2v3.1h-2.2zM2303.2 1612.0h2.2v1.0h-2.2zM2312.6 1612.0h2.2v57.3h-2.2zM2360.0 1572.7h2.2v39.3h-2.2zM2367.5 1612.0h2.2v6.6h-2.2zM2377.0 1587.9h2.2v24.1h-2.2zM2380.8 1612.0h2.2v1.0h-2.2zM2386.5 1609.6h2.2v2.4h-2.2zM2388.3 1610.2h2.2v1.8h-2.2zM2392.1 1611.2h2.2v0.8h-2.2zM2431.9 1612.0h2.2v1.8h-2.2zM2445.1 1610.9h2.2v1.1h-2.2zM2447.0 1600.5h2.2v11.5h-2.2zM2448.9 1611.3h2.2v0.7h-2.2zM2452.7 1611.1h2.2v0.9h-2.2zM2454.6 1590.3h2.2v21.7h-2.2zM2458.4 1555.8h2.2v56.2h-2.2zM2469.7 1610.6h2.2v1.4h-2.2zM2475.4 1611.1h2.2v0.9h-2.2zM2479.2 1611.3h2.2v0.7h-2.2zM2481.1 1612.0h2.2v0.6h-2.2zM2490.5 1611.0h2.2v1.0h-2.2zM2511.4 1611.4h2.2v0.6h-2.2zM2551.1 1610.5h2.2v1.5h-2.2zM2554.9 1612.0h2.2v19.9h-2.2zM2556.8 1610.2h2.2v1.8h-2.2zM2560.6 1610.3h2.2v1.7h-2.2zM2562.5 1611.4h2.2v0.6h-2.2zM2577.6 1610.1h2.2v1.9h-2.2zM2590.9 1612.0h2.2v7.8h-2.2zM2638.2 1611.4h2.2v0.6h-2.2zM2672.2 1612.0h2.2v2.5h-2.2zM2677.9 1611.3h2.2v0.7h-2.2zM2679.8 1607.7h2.2v4.3h-2.2zM2683.6 1602.9h2.2v9.1h-2.2zM2685.5 1532.4h2.2v79.6h-2.2zM2702.5 1611.3h2.2v0.7h-2.2zM2710.1 1605.3h2.2v6.7h-2.2zM2713.9 1605.3h2.2v6.7h-2.2zM2719.5 1612.0h2.2v7.3h-2.2zM2738.5 1611.3h2.2v0.7h-2.2zM2742.3 1607.7h2.2v4.3h-2.2zM2746.0 1611.4h2.2v0.6h-2.2zM2751.7 1611.3h2.2v0.7h-2.2zM2757.4 1607.7h2.2v4.3h-2.2zM2759.3 1607.2h2.2v4.8h-2.2zM2782.0 1611.1h2.2v0.9h-2.2zM2793.4 1609.9h2.2v2.1h-2.2zM2797.1 1610.5h2.2v1.5h-2.2zM2799.0 1550.2h2.2v61.8h-2.2zM2804.7 1550.2h2.2v61.8h-2.2zM2808.5 1610.8h2.2v1.2h-2.2zM2810.4 1598.1h2.2v13.9h-2.2zM2812.3 1610.2h2.2v1.8h-2.2zM2814.2 1590.3h2.2v21.7h-2.2zM2819.9 1575.1h2.2v36.9h-2.2zM2844.5 1612.0h2.2v3.7h-2.2zM2848.2 1612.0h2.2v4.9h-2.2zM2850.1 1612.0h2.2v0.6h-2.2zM2865.3 1609.7h2.2v2.3h-2.2zM2867.2 1579.5h2.2v32.5h-2.2zM2882.3 1609.2h2.2v2.8h-2.2zM2889.9 1584.3h2.2v27.7h-2.2zM2895.6 1577.1h2.2v34.9h-2.2zM2901.2 1608.9h2.2v3.1h-2.2zM2905.0 1611.0h2.2v1.0h-2.2zM2910.7 1574.6h2.2v37.4h-2.2zM2912.6 1485.3h2.2v126.7h-2.2zM2914.5 1612.0h2.2v2.5h-2.2zM2920.2 1608.0h2.2v4.0h-2.2zM2922.1 1499.8h2.2v112.2h-2.2zM2929.6 1555.3h2.2v56.7h-2.2zM2931.5 1610.6h2.2v1.4h-2.2zM2933.4 1574.6h2.2v37.4h-2.2zM2937.2 1197.5h2.2v414.5h-2.2zM2939.1 1610.2h2.2v1.8h-2.2zM2946.7 1612.0h2.2v3.1h-2.2zM2956.1 1608.7h2.2v3.3h-2.2zM2958.0 1612.0h2.2v3.7h-2.2zM2959.9 1612.0h2.2v20.5h-2.2zM2963.7 1609.6h2.2v2.4h-2.2zM2967.5 401.6h2.2v1210.4h-2.2zM2969.4 1577.1h2.2v34.9h-2.2zM2973.2 1587.9h2.2v24.1h-2.2zM2980.7 1612.0h2.2v3.0h-2.2zM2984.5 1299.8h2.2v312.2h-2.2zM2988.3 1612.0h2.2v7.3h-2.2zM2992.1 1612.0h2.2v7.3h-2.2zM2997.8 1583.1h2.2v28.9h-2.2zM2999.7 1612.0h2.2v9.7h-2.2zM3007.2 1612.0h2.2v8.5h-2.2zM3014.8 1612.0h2.2v21.8h-2.2zM3022.4 1604.8h2.2v7.2h-2.2zM3026.2 1612.0h2.2v1.1h-2.2zM3029.9 1612.0h2.2v24.2h-2.2zM3031.8 1612.0h2.2v1.8h-2.2zM3039.4 1612.0h2.2v73.6h-2.2zM3054.5 1587.9h2.2v24.1h-2.2zM3062.1 1612.0h2.2v4.9h-2.2zM3065.9 1595.2h2.2v16.8h-2.2zM3067.8 1600.0h2.2v12.0h-2.2zM3069.7 1602.4h2.2v9.6h-2.2zM3075.4 1600.0h2.2v12.0h-2.2zM3077.3 1540.3h2.2v71.7h-2.2zM3081.0 1612.0h2.2v4.9h-2.2zM3086.7 1610.8h2.2v1.2h-2.2zM3092.4 1609.8h2.2v2.2h-2.2zM3098.1 1609.4h2.2v2.6h-2.2zM3101.9 1602.4h2.2v9.6h-2.2zM3107.5 1581.9h2.2v30.1h-2.2zM3113.2 1612.0h2.2v0.9h-2.2zM3117.0 1612.0h2.2v7.3h-2.2zM3122.7 1612.0h2.2v6.1h-2.2zM3124.6 1612.0h2.2v12.2h-2.2zM3126.5 1604.8h2.2v7.2h-2.2zM3130.2 1602.4h2.2v9.6h-2.2zM3134.0 1611.0h2.2v1.0h-2.2zM3135.9 1612.0h2.2v9.7h-2.2zM3139.7 1520.3h2.2v91.7h-2.2zM3143.5 1612.0h2.2v25.4h-2.2zM3147.3 1612.0h2.2v39.9h-2.2zM3151.1 1609.3h2.2v2.7h-2.2zM3154.8 1600.0h2.2v12.0h-2.2zM3158.6 1612.0h2.2v3.5h-2.2zM3162.4 1612.0h2.2v35.1h-2.2zM3164.3 1555.3h2.2v56.7h-2.2zM3173.8 1611.0h2.2v1.0h-2.2zM3181.3 1579.5h2.2v32.5h-2.2zM3185.1 1489.6h2.2v122.4h-2.2zM3190.8 1595.2h2.2v16.8h-2.2zM3192.7 1602.4h2.2v9.6h-2.2zM3194.6 1592.8h2.2v19.2h-2.2zM3198.4 1596.4h2.2v15.6h-2.2zM3202.2 1587.9h2.2v24.1h-2.2zM3209.7 1580.0h2.2v32.0h-2.2zM3211.6 1612.0h2.2v33.9h-2.2zM3217.3 1612.0h2.2v4.9h-2.2zM3219.2 1612.0h2.2v26.6h-2.2zM3223.0 1612.0h2.2v103.1h-2.2zM3224.9 1602.4h2.2v9.6h-2.2zM3232.4 1439.9h2.2v172.1h-2.2zM3238.1 1600.0h2.2v12.0h-2.2zM3240.0 1597.6h2.2v14.4h-2.2zM3241.9 1612.0h2.2v7.3h-2.2zM3249.5 1612.0h2.2v17.0h-2.2zM3257.0 1560.1h2.2v51.9h-2.2zM3266.5 1612.0h2.2v9.7h-2.2zM3270.3 1612.0h2.2v1.8h-2.2zM3272.2 1612.0h2.2v21.8h-2.2zM3274.1 1612.0h2.2v1.6h-2.2zM3277.9 1612.0h2.2v2.5h-2.2zM3283.5 1612.0h2.2v2.2h-2.2zM3285.4 1612.0h2.2v1.5h-2.2zM3289.2 1612.0h2.2v21.8h-2.2zM3294.9 1607.2h2.2v4.8h-2.2zM3302.5 1600.0h2.2v12.0h-2.2zM3304.4 1612.0h2.2v4.9h-2.2zM3308.1 1600.0h2.2v12.0h-2.2zM3310.0 1580.0h2.2v32.0h-2.2zM3313.8 1611.3h2.2v0.7h-2.2zM3319.5 1542.8h2.2v69.2h-2.2zM3321.4 1600.0h2.2v12.0h-2.2zM3327.1 1612.0h2.2v14.6h-2.2zM3332.8 1612.0h2.2v29.3h-2.2zM3334.6 1610.9h2.2v1.1h-2.2zM3336.5 1607.2h2.2v4.8h-2.2zM3338.4 1612.0h2.2v1.3h-2.2zM3347.9 1612.0h2.2v14.6h-2.2zM3349.8 1612.0h2.2v1.0h-2.2zM3355.5 1597.6h2.2v14.4h-2.2zM3357.4 1602.4h2.2v9.6h-2.2zM3363.0 1610.6h2.2v1.4h-2.2zM3370.6 1592.8h2.2v19.2h-2.2zM3376.3 1610.6h2.2v1.4h-2.2zM3382.0 1542.8h2.2v69.2h-2.2zM3389.5 1597.6h2.2v14.4h-2.2zM3395.2 1597.6h2.2v14.4h-2.2zM3397.1 1562.6h2.2v49.4h-2.2zM3399.0 1608.2h2.2v3.8h-2.2zM3404.7 1485.3h2.2v126.7h-2.2zM3408.5 1517.9h2.2v94.1h-2.2zM3410.3 1490.1h2.2v121.9h-2.2zM3412.2 1490.1h2.2v121.9h-2.2zM3414.1 1604.8h2.2v7.2h-2.2zM3419.8 1567.4h2.2v44.6h-2.2zM3423.6 1600.1h2.2v11.9h-2.2zM3427.4 1572.3h2.2v39.7h-2.2zM3429.3 1502.2h2.2v109.8h-2.2zM3435.0 1595.2h2.2v16.8h-2.2zM3440.6 1588.0h2.2v24.0h-2.2zM3442.5 1612.0h2.2v38.2h-2.2zM3444.4 1575.2h2.2v36.8h-2.2zM3448.2 1475.2h2.2v136.8h-2.2zM3450.1 1410.4h2.2v201.6h-2.2zM3452.0 1427.3h2.2v184.7h-2.2zM3453.9 1612.0h2.2v17.1h-2.2zM3455.8 1610.8h2.2v1.2h-2.2zM3457.7 1612.0h2.2v28.1h-2.2zM3459.6 1583.1h2.2v28.9h-2.2zM3474.7 1527.6h2.2v84.4h-2.2zM3476.6 1492.5h2.2v119.5h-2.2zM3482.3 1495.0h2.2v117.0h-2.2zM3487.9 1612.0h2.2v7.4h-2.2zM3491.7 1612.0h2.2v21.9h-2.2zM3495.5 1608.5h2.2v3.5h-2.2zM3499.3 1525.2h2.2v86.8h-2.2zM3503.1 1612.0h2.2v0.8h-2.2zM3506.9 1552.9h2.2v59.1h-2.2zM3512.5 1612.0h2.2v44.8h-2.2zM3514.4 1445.0h2.2v167.0h-2.2zM3516.3 1607.7h2.2v4.3h-2.2zM3520.1 1612.0h2.2v32.8h-2.2zM3522.0 1607.3h2.2v4.7h-2.2zM3529.6 1602.5h2.2v9.5h-2.2zM3535.3 1565.0h2.2v47.0h-2.2zM3539.0 1597.6h2.2v14.4h-2.2zM3542.8 1612.0h2.2v12.2h-2.2zM3546.6 1595.2h2.2v16.8h-2.2zM3550.4 1611.2h2.2v0.8h-2.2zM3563.6 1611.3h2.2v0.7h-2.2zM3565.5 1612.0h2.2v23.1h-2.2zM3567.4 1602.5h2.2v9.5h-2.2zM3575.0 1610.9h2.2v1.1h-2.2zM3576.9 1320.3h2.2v291.7h-2.2zM3582.6 1611.1h2.2v0.9h-2.2zM3586.4 1609.5h2.2v2.5h-2.2zM3588.3 1604.9h2.2v7.1h-2.2zM3593.9 1612.0h2.2v1.5h-2.2zM3597.7 1609.1h2.2v2.9h-2.2zM3605.3 1612.0h2.2v3.6h-2.2zM3607.2 1612.0h2.2v37.6h-2.2zM3609.1 1612.0h2.2v3.2h-2.2zM3612.9 1610.5h2.2v1.5h-2.2zM3614.7 1612.0h2.2v44.8h-2.2zM3618.5 1577.1h2.2v34.9h-2.2zM3622.3 1608.2h2.2v3.8h-2.2zM3624.2 1516.7h2.2v95.3h-2.2zM3639.4 1609.3h2.2v2.7h-2.2zM3641.2 1610.9h2.2v1.1h-2.2zM3645.0 1610.9h2.2v1.1h-2.2zM3646.9 1595.2h2.2v16.8h-2.2zM3648.8 1612.0h2.2v0.8h-2.2zM3662.1 1612.0h2.2v18.3h-2.2zM3664.0 1612.0h2.2v1.8h-2.2zM3669.6 1612.0h2.2v19.5h-2.2zM3671.5 1612.0h2.2v1.3h-2.2zM3673.4 1612.0h2.2v1.7h-2.2zM3684.8 1612.0h2.2v25.5h-2.2zM3692.3 1612.0h2.2v15.8h-2.2zM3698.0 1590.4h2.2v21.6h-2.2zM3705.6 1612.0h2.2v37.6h-2.2zM3715.1 1612.0h2.2v3.6h-2.2zM3720.7 1612.0h2.2v0.8h-2.2zM3724.5 1608.1h2.2v3.9h-2.2zM3726.4 1610.8h2.2v1.2h-2.2zM3728.3 1610.5h2.2v1.5h-2.2zM3732.1 1609.1h2.2v2.9h-2.2zM3735.9 1567.9h2.2v44.1h-2.2zM3743.4 1609.8h2.2v2.2h-2.2zM3745.3 1608.7h2.2v3.3h-2.2zM3751.0 1608.2h2.2v3.8h-2.2zM3752.9 1565.0h2.2v47.0h-2.2zM3754.8 1610.4h2.2v1.6h-2.2z" fill="#f1965a"/><path d="M280.3 1910.4 L283.0 1906.6 L284.5 1906.7 L287.0 1890.1 L288.7 1893.4 L290.7 1896.3 L292.8 1902.5 L295.3 1918.1 L299.0 1906.7 L300.6 1898.4 L302.7 1905.6 L305.2 1898.4 L307.6 1898.2 L310.4 1895.3 L314.5 1909.8 L317.2 1905.6 L319.7 1917.0 L322.7 1912.9 L324.2 1911.9 L327.5 1898.4 L330.0 1903.6 L332.1 1893.2 L334.2 1904.6 L335.8 1892.2 L337.3 1901.5 L340.4 1896.3 L342.4 1899.4 L345.4 1895.8 L347.3 1896.1 L348.7 1895.3 L352.4 1893.2 L353.8 1908.7 L356.5 1901.5 L359.6 1904.6 L362.7 1900.1 L364.4 1901.9 L367.3 1903.6 L370.0 1905.4 L372.5 1904.6 L374.5 1897.4 L377.2 1899.0 L379.3 1904.2 L381.4 1905.6 L383.8 1910.4 L385.2 1907.3 L388.0 1905.6 L391.1 1905.0 L392.8 1907.6 L394.2 1908.3 L396.5 1908.5 L398.3 1907.7 L400.8 1902.1 L402.5 1904.2 L405.0 1899.4 L407.0 1905.0 L410.8 1903.6 L413.6 1905.8 L414.9 1904.2 L417.4 1906.4 L419.2 1905.8 L421.1 1906.7 L423.0 1906.2 L424.9 1909.4 L426.9 1906.3 L428.7 1903.6 L431.5 1900.5 L434.6 1898.4 L436.3 1896.9 L437.7 1897.4 L440.2 1888.0 L441.4 1874.6 L444.9 1877.3 L448.0 1873.6 L449.7 1866.3 L451.7 1878.7 L453.3 1875.7 L454.6 1875.6 L457.3 1866.3 L459.0 1866.0 L461.5 1865.3 L464.6 1867.3 L467.7 1860.1 L469.3 1869.4 L472.4 1865.3 L474.1 1864.3 L477.0 1862.2 L480.7 1853.9 L484.2 1863.2 L487.3 1871.1 L490.5 1865.3 L493.1 1864.6 L494.6 1864.9 L495.6 1875.6 L498.7 1871.5 L500.8 1873.1 L502.5 1869.9 L503.9 1867.3 L507.0 1866.3 L509.7 1859.1 L511.8 1877.7 L513.2 1890.1 L515.8 1891.7 L517.4 1892.2 L520.5 1888.0 L522.5 1892.6 L525.2 1890.2 L528.3 1885.6 L531.2 1889.1 L533.9 1882.9 L536.6 1880.9 L538.1 1877.7 L540.4 1876.7 L542.8 1875.2 L544.2 1877.2 L546.3 1886.0 L547.4 1883.9 L550.7 1894.3 L552.6 1881.8 L555.7 1882.9 L557.4 1882.7 L559.3 1879.0 L560.8 1879.8 L563.1 1881.8 L565.0 1883.9 L566.9 1883.0 L569.7 1886.0 L573.9 1880.8 L575.9 1884.9 L578.2 1881.3 L580.5 1877.7 L582.0 1874.2 L583.6 1872.5 L586.7 1869.4 L589.8 1871.5 L591.5 1870.6 L592.9 1869.4 L596.0 1872.5 L599.1 1867.8 L602.2 1863.2 L603.7 1850.8 L606.4 1846.6 L608.5 1848.0 L610.5 1843.5 L612.6 1845.6 L614.6 1832.2 L617.3 1843.5 L619.9 1839.3 L622.9 1834.2 L626.0 1839.4 L627.4 1837.1 L629.1 1832.2 L631.2 1830.1 L631.8 1813.5 L634.3 1805.2 L636.4 1815.6 L638.8 1811.6 L640.5 1811.5 L642.6 1801.8 L644.2 1794.5 L646.4 1796.4 L648.8 1797.0 L650.9 1803.2 L654.0 1774.2 L655.8 1772.7 L658.1 1771.1 L660.2 1756.6 L664.3 1757.6 L667.0 1751.4 L669.1 1758.7 L671.6 1780.4 L674.7 1781.4 L676.6 1773.5 L678.8 1763.8 L680.9 1743.1 L683.6 1755.6 L686.1 1741.1 L688.1 1755.6 L690.6 1745.2 L693.3 1750.4 L695.4 1765.9 L698.1 1761.8 L700.6 1771.1 L703.0 1753.5 L705.7 1747.3 L708.8 1746.3 L710.9 1692.4 L712.6 1685.2 L714.0 1679.0 L717.3 1692.7 L719.6 1679.1 L722.1 1681.1 L724.1 1685.1 L726.4 1665.4 L727.9 1639.6 L729.8 1636.6 L731.0 1632.0 L734.0 1621.4 L735.5 1598.6 L737.2 1596.6 L739.3 1592.6 L741.6 1560.7 L742.4 1534.3 L744.5 1546.7 L747.6 1532.2 L750.5 1467.7 L752.8 1416.3 L754.2 1421.4 L755.9 1422.5 L758.0 1460.1 L761.1 1515.6 L763.1 1465.9 L764.6 1439.0 L766.7 1484.6 L770.4 1490.8 L772.5 1478.4 L774.5 1492.9 L777.0 1565.3 L778.8 1551.5 L780.7 1535.3 L782.8 1546.7 L784.5 1543.3 L785.9 1540.5 L789.0 1572.6 L791.1 1532.2 L793.2 1513.6 L796.3 1511.5 L797.3 1530.1 L799.7 1518.2 L801.0 1509.4 L801.4 1461.8 L803.4 1458.1 L805.6 1455.6 L807.7 1439.0 L809.1 1439.3 L810.8 1437.0 L813.7 1348.0 L815.8 1300.6 L818.6 1306.9 L820.5 1313.0 L822.0 1315.1 L822.7 1289.0 L824.5 1281.6 L826.2 1258.2 L827.6 1236.0 L829.7 1241.2 L831.8 1171.8 L833.8 1178.1 L835.9 1152.2 L837.5 1191.6 L839.0 1227.7 L840.0 1283.6 L842.5 1273.3 L845.2 1300.2 L847.0 1319.7 L848.7 1341.2 L850.6 1341.2 L851.4 1275.4 L854.5 1262.9 L857.0 1291.9 L860.2 1288.7 L861.8 1285.7 L864.9 1238.1 L867.0 1188.4 L869.4 1147.0 L872.1 1153.2 L874.2 1094.2 L878.3 1178.1 L881.4 1130.4 L883.5 1144.9 L887.7 1140.8 L889.7 1151.1 L891.8 1202.9 L893.9 1192.5 L897.0 1246.4 L900.1 1184.3 L902.2 1173.9 L903.8 1151.0 L905.3 1128.4 L907.5 1130.9 L909.4 1129.4 L912.5 1122.2 L914.6 1155.3 L916.6 1126.3 L919.8 1128.4 L921.8 1173.9 L924.6 1151.5 L926.0 1140.8 L927.0 1113.9 L928.4 1112.7 L930.1 1109.7 L932.2 1055.9 L934.9 1055.9 L937.3 1062.1 L939.7 1088.7 L941.5 1107.7 L943.6 1169.8 L945.6 1167.7 L947.3 1196.9 L949.8 1240.2 L953.0 1264.7 L954.9 1279.5 L958.1 1202.9 L960.1 1184.3 L963.2 1211.2 L964.3 1147.0 L967.4 1144.9 L969.4 1163.6 L972.5 1215.3 L974.6 1151.1 L976.7 1165.6 L979.8 1128.4 L981.4 1132.7 L982.9 1136.6 L985.4 1176.0 L987.0 1163.6 L989.1 1279.5 L990.8 1295.9 L992.9 1317.6 L995.3 1322.5 L997.2 1368.4 L999.7 1378.0 L1000.9 1472.2 L1003.3 1416.7 L1004.5 1467.4 L1006.0 1481.3 L1008.1 1504.8 L1010.5 1443.2 L1014.2 1436.0 L1016.6 1445.7 L1020.2 1507.2 L1023.8 1467.4 L1026.2 1467.4 L1028.6 1436.0 L1030.6 1464.8 L1032.3 1491.5 L1034.3 1511.6 L1035.9 1525.4 L1038.1 1530.2 L1039.5 1530.2 L1040.7 1465.0 L1044.3 1466.2 L1046.0 1491.5 L1047.6 1466.0 L1050.4 1416.7 L1052.8 1421.5 L1054.7 1450.5 L1056.4 1452.9 L1058.8 1489.1 L1062.0 1491.5 L1063.7 1554.3 L1066.5 1528.6 L1068.5 1508.5 L1070.3 1535.7 L1071.6 1554.3 L1074.5 1515.7 L1076.0 1506.0 L1078.2 1489.1 L1079.8 1501.0 L1081.7 1515.4 L1083.0 1524.2 L1085.4 1513.4 L1087.8 1498.8 L1089.2 1504.0 L1091.4 1513.3 L1093.0 1521.8 L1095.1 1535.0 L1097.5 1524.2 L1101.1 1535.0 L1102.5 1537.8 L1104.7 1536.2 L1106.3 1542.1 L1108.4 1549.5 L1110.8 1559.2 L1114.4 1551.9 L1115.7 1564.2 L1118.0 1582.1 L1119.5 1567.8 L1121.6 1544.7 L1123.3 1532.3 L1125.3 1520.5 L1127.7 1496.4 L1131.3 1431.2 L1132.8 1429.6 L1134.4 1421.5 L1137.3 1390.1 L1141.0 1419.1 L1144.6 1450.5 L1146.0 1439.9 L1147.9 1420.9 L1149.4 1407.0 L1151.8 1353.9 L1153.6 1359.4 L1155.5 1363.5 L1156.7 1327.3 L1160.3 1351.4 L1163.9 1301.9 L1166.8 1310.1 L1168.7 1315.2 L1171.6 1351.4 L1174.4 1304.5 L1176.0 1279.0 L1178.2 1278.9 L1179.6 1279.0 L1183.2 1269.3 L1185.2 1303.1 L1188.1 1286.2 L1189.3 1315.2 L1192.4 1283.8 L1196.5 1316.4 L1197.7 1286.2 L1201.4 1274.2 L1202.8 1270.2 L1204.5 1264.5 L1207.4 1224.9 L1210.3 1269.3 L1211.0 1312.8 L1214.6 1327.3 L1217.1 1346.6 L1220.0 1327.3 L1221.7 1338.8 L1223.1 1345.4 L1225.5 1298.3 L1227.4 1299.2 L1229.1 1298.3 L1231.2 1297.0 L1232.8 1295.9 L1235.2 1310.4 L1237.6 1411.8 L1241.2 1349.0 L1243.6 1375.6 L1246.3 1378.6 L1248.5 1378.0 L1250.9 1407.0 L1253.3 1394.9 L1256.9 1298.3 L1260.5 1298.3 L1262.9 1279.0 L1264.5 1210.9 L1265.7 1185.5 L1268.2 1208.5 L1270.6 1203.6 L1272.3 1185.5 L1274.7 1192.8 L1276.1 1151.7 L1279.0 1172.2 L1281.4 1152.9 L1282.7 1086.5 L1284.2 1089.1 L1286.3 1094.9 L1288.7 1080.4 L1292.3 1017.6 L1295.9 1098.6 L1298.4 1092.5 L1300.8 1063.5 L1303.2 1094.9 L1305.6 1133.6 L1309.2 1078.0 L1311.6 1078.0 L1314.1 1094.9 L1316.3 1074.6 L1317.7 1061.1 L1320.1 1070.8 L1322.5 1094.9 L1324.9 1087.7 L1327.3 994.7 L1329.8 995.9 L1332.2 1034.5 L1335.8 1049.0 L1337.2 1041.7 L1339.4 1026.1 L1341.8 1058.7 L1344.3 1107.0 L1346.7 1107.0 L1347.9 1157.7 L1350.3 1116.7 L1352.0 1116.7 L1355.1 1167.4 L1358.7 1128.7 L1361.2 1206.0 L1364.8 1191.5 L1368.4 1145.7 L1370.8 1155.3 L1373.2 1162.6 L1375.0 1209.5 L1377.6 1278.5 L1380.5 1261.6 L1382.6 1273.7 L1384.5 1287.5 L1387.4 1308.7 L1389.9 1272.5 L1392.3 1270.0 L1394.7 1315.9 L1397.1 1287.0 L1399.5 1287.0 L1401.9 1325.6 L1403.4 1323.7 L1405.3 1321.2 L1406.8 1318.4 L1409.2 1287.0 L1411.0 1287.4 L1412.3 1284.5 L1414.0 1254.3 L1416.6 1253.7 L1418.5 1255.3 L1420.0 1255.6 L1422.5 1306.3 L1424.4 1320.8 L1426.1 1322.8 L1427.8 1323.2 L1429.7 1306.3 L1432.1 1306.3 L1433.7 1316.5 L1435.7 1330.4 L1438.2 1369.1 L1441.8 1400.5 L1443.1 1395.8 L1445.4 1395.7 L1446.9 1394.6 L1449.0 1390.8 L1451.4 1364.3 L1453.9 1381.2 L1457.5 1376.3 L1461.1 1386.0 L1464.7 1400.5 L1467.9 1412.6 L1469.6 1499.5 L1471.5 1489.2 L1473.2 1475.4 L1475.3 1475.1 L1476.8 1472.9 L1479.1 1462.7 L1480.4 1458.5 L1484.1 1448.8 L1487.7 1453.6 L1490.5 1444.8 L1492.5 1439.1 L1494.4 1468.1 L1496.1 1395.7 L1497.8 1405.3 L1501.0 1364.3 L1504.6 1357.0 L1508.2 1386.0 L1512.3 1390.8 L1515.5 1354.6 L1517.0 1380.8 L1519.1 1417.4 L1522.0 1419.8 L1524.5 1451.1 L1526.3 1468.1 L1528.3 1465.9 L1531.2 1460.9 L1534.8 1434.3 L1538.4 1458.5 L1540.8 1378.7 L1543.2 1357.0 L1545.3 1372.6 L1546.9 1383.6 L1549.3 1434.3 L1551.0 1445.5 L1552.9 1453.6 L1555.3 1439.1 L1557.7 1395.7 L1560.1 1439.1 L1562.6 1434.3 L1565.0 1458.5 L1567.4 1431.9 L1569.8 1431.9 L1572.2 1400.5 L1573.7 1396.4 L1575.8 1390.8 L1578.3 1395.7 L1580.7 1412.6 L1584.3 1366.7 L1587.9 1354.6 L1590.3 1320.8 L1592.7 1316.0 L1595.2 1306.3 L1598.8 1335.3 L1600.2 1331.6 L1602.4 1328.0 L1604.0 1324.2 L1606.0 1320.8 L1607.8 1345.1 L1609.7 1369.1 L1612.1 1371.5 L1614.5 1386.0 L1616.9 1388.4 L1619.3 1429.5 L1621.0 1420.8 L1622.9 1407.7 L1625.4 1417.4 L1626.7 1417.3 L1629.0 1415.0 L1630.2 1427.1 L1632.4 1415.3 L1635.0 1400.5 L1638.6 1410.1 L1640.0 1415.9 L1642.3 1431.9 L1643.8 1427.1 L1645.9 1422.2 L1648.1 1451.4 L1651.7 1428.5 L1653.2 1440.1 L1655.4 1458.7 L1657.0 1452.6 L1659.0 1446.6 L1661.4 1457.5 L1663.8 1430.9 L1665.7 1478.0 L1668.4 1489.5 L1669.9 1494.9 L1672.3 1531.2 L1673.5 1577.1 L1675.9 1567.4 L1677.1 1596.4 L1680.7 1594.0 L1684.3 1562.6 L1686.8 1584.3 L1689.2 1574.6 L1690.9 1598.8 L1693.3 1577.1 L1694.9 1583.9 L1696.4 1591.5 L1698.8 1579.5 L1700.5 1586.1 L1702.5 1591.5 L1704.9 1591.5 L1706.2 1596.1 L1707.8 1601.2 L1710.9 1591.5 L1712.1 1552.9 L1713.8 1550.8 L1715.7 1549.3 L1718.2 1586.7 L1720.6 1577.1 L1723.2 1578.5 L1725.4 1579.5 L1726.6 1555.3 L1729.0 1562.6 L1731.4 1577.1 L1735.1 1603.6 L1736.5 1634.7 L1739.3 1694.9 L1742.9 1702.2 L1744.2 1728.7 L1746.0 1741.8 L1747.8 1752.9 L1749.0 1728.7 L1752.6 1726.3 L1755.0 1736.0 L1757.4 1733.6 L1758.6 1721.5 L1762.3 1711.8 L1765.9 1728.7 L1768.7 1733.7 L1770.7 1738.4 L1773.1 1748.1 L1776.8 1748.1 L1778.0 1731.2 L1780.0 1730.9 L1781.6 1731.2 L1784.0 1711.8 L1785.7 1710.2 L1788.8 1711.8 L1791.3 1733.6 L1793.7 1745.7 L1796.1 1733.6 L1799.0 1729.8 L1802.1 1721.5 L1804.5 1721.5 L1807.0 1680.4 L1808.4 1684.6 L1810.6 1686.5 L1813.0 1690.1 L1815.4 1699.8 L1817.8 1694.9 L1820.2 1719.1 L1821.7 1701.8 L1823.9 1675.6 L1825.4 1677.1 L1827.5 1680.4 L1829.2 1682.4 L1831.1 1687.7 L1833.0 1689.2 L1834.7 1690.1 L1836.8 1694.5 L1838.4 1697.3 L1840.8 1686.5 L1842.5 1689.1 L1845.6 1686.5 L1846.8 1678.0 L1849.2 1682.9 L1852.9 1668.4 L1856.5 1668.4 L1859.5 1674.7 L1861.3 1678.0 L1863.3 1682.4 L1864.9 1687.7 L1866.1 1722.7 L1868.6 1716.7 L1872.2 1714.3 L1874.6 1716.7 L1876.5 1709.8 L1878.2 1709.4 L1880.6 1733.6 L1883.0 1742.0 L1886.7 1734.8 L1889.1 1738.4 L1892.7 1736.0 L1895.5 1740.5 L1897.5 1740.8 L1899.2 1752.9 L1901.2 1751.0 L1903.6 1748.1 L1905.5 1714.3 L1908.4 1709.4 L1911.3 1701.0 L1913.2 1736.0 L1915.7 1736.0 L1918.1 1743.2 L1921.0 1728.7 L1924.1 1745.7 L1925.8 1749.8 L1927.7 1758.9 L1930.1 1745.7 L1933.3 1750.6 L1935.0 1752.9 L1937.4 1745.7 L1939.0 1745.9 L1941.0 1750.5 L1942.8 1749.9 L1944.6 1743.2 L1946.6 1749.7 L1948.3 1752.9 L1950.4 1739.6 L1951.9 1728.7 L1954.1 1731.9 L1956.7 1736.0 L1959.1 1743.2 L1961.7 1743.8 L1963.6 1748.5 L1965.2 1750.5 L1967.4 1746.4 L1970.0 1745.7 L1973.6 1751.7 L1975.0 1748.8 L1977.2 1742.0 L1978.8 1743.0 L1980.9 1750.5 L1982.5 1749.9 L1984.5 1751.7 L1986.3 1750.9 L1989.3 1745.7 L1991.7 1733.6 L1994.2 1725.1 L1995.8 1728.2 L1997.8 1727.5 L2000.7 1722.7 L2003.4 1728.0 L2005.0 1733.6 L2007.1 1731.7 L2008.6 1733.6 L2011.1 1719.1 L2013.5 1715.5 L2016.6 1753.7 L2018.5 1776.3 L2020.5 1799.5 L2022.9 1775.4 L2025.4 1777.8 L2028.5 1797.1 L2029.9 1789.2 L2031.4 1782.6 L2033.6 1784.8 L2035.0 1787.4 L2037.4 1786.6 L2039.3 1786.0 L2041.1 1787.4 L2043.5 1806.8 L2045.0 1798.9 L2047.1 1789.9 L2048.8 1791.8 L2051.9 1791.1 L2054.5 1794.6 L2057.5 1797.1 L2060.4 1777.8 L2063.3 1783.8 L2066.4 1780.2 L2068.8 1785.0 L2072.5 1780.2 L2074.9 1788.6 L2077.2 1785.8 L2078.5 1780.2 L2082.1 1782.6 L2084.5 1770.5 L2086.6 1770.4 L2088.2 1770.5 L2090.6 1792.3 L2092.3 1790.4 L2095.4 1787.4 L2096.6 1795.9 L2099.0 1785.0 L2101.8 1785.2 L2103.9 1787.4 L2105.6 1786.6 L2107.4 1784.4 L2109.9 1785.0 L2111.2 1784.7 L2113.5 1789.9 L2115.0 1791.1 L2116.9 1792.4 L2118.4 1791.1 L2120.7 1790.9 L2122.6 1790.5 L2125.6 1787.4 L2128.3 1786.1 L2130.2 1783.8 L2131.6 1783.8 L2133.9 1782.1 L2135.8 1780.0 L2137.7 1779.0 L2140.1 1768.1 L2142.5 1753.6 L2144.9 1722.2 L2147.8 1719.8 L2151.0 1719.8 L2153.4 1729.5 L2155.8 1717.4 L2157.0 1693.2 L2158.5 1691.1 L2160.4 1689.5 L2161.8 1690.8 L2164.3 1698.1 L2166.7 1687.2 L2168.0 1685.8 L2169.9 1688.0 L2171.5 1688.4 L2173.9 1680.0 L2176.3 1693.2 L2180.0 1676.3 L2183.2 1681.3 L2184.8 1683.6 L2187.2 1686.0 L2188.8 1688.7 L2190.8 1693.2 L2192.0 1683.6 L2194.4 1700.5 L2196.9 1712.6 L2198.3 1713.3 L2200.5 1710.1 L2202.1 1710.4 L2204.1 1710.1 L2206.5 1671.5 L2210.1 1664.3 L2212.6 1666.7 L2215.0 1657.0 L2217.4 1669.1 L2219.1 1672.1 L2221.0 1673.9 L2223.4 1686.0 L2224.8 1687.5 L2227.1 1686.0 L2229.5 1678.7 L2231.9 1688.4 L2234.3 1680.0 L2236.7 1698.1 L2239.9 1697.1 L2242.8 1698.1 L2246.4 1707.7 L2248.3 1731.9 L2250.7 1736.7 L2253.6 1724.6 L2256.0 1671.5 L2259.7 1669.1 L2260.9 1661.8 L2262.6 1640.6 L2264.5 1623.2 L2266.4 1624.1 L2268.1 1623.2 L2270.5 1609.9 L2272.1 1612.6 L2274.0 1619.3 L2275.4 1620.8 L2277.8 1611.1 L2279.7 1619.1 L2281.4 1625.6 L2283.5 1624.8 L2286.2 1620.8 L2289.9 1603.9 L2293.5 1606.3 L2294.8 1607.8 L2296.7 1605.1 L2298.1 1608.2 L2301.7 1611.8 L2305.4 1611.8 L2307.8 1599.8 L2310.2 1573.2 L2311.8 1575.2 L2313.8 1575.6 L2316.2 1573.2 L2319.9 1575.6 L2321.3 1574.8 L2323.5 1575.6 L2325.9 1592.5 L2329.5 1621.5 L2333.1 1619.1 L2334.6 1618.2 L2336.0 1619.1 L2338.0 1604.6 L2340.4 1585.3 L2342.1 1587.6 L2344.0 1591.3 L2346.4 1592.5 L2348.8 1609.4 L2352.5 1594.9 L2354.9 1591.3 L2357.3 1592.5 L2359.7 1604.6 L2361.1 1610.4 L2363.3 1617.9 L2364.8 1620.4 L2367.0 1621.5 L2368.9 1631.2 L2371.8 1631.2 L2374.3 1628.6 L2376.6 1623.9 L2379.0 1619.1 L2381.4 1628.7 L2384.3 1626.3 L2386.3 1633.6 L2389.9 1626.3 L2391.1 1640.8 L2393.2 1635.7 L2395.9 1633.6 L2398.4 1614.3 L2400.8 1611.8 L2402.7 1613.7 L2404.4 1616.7 L2406.5 1623.5 L2408.0 1633.6 L2410.4 1623.9 L2412.2 1634.1 L2414.1 1645.7 L2415.9 1636.3 L2417.7 1626.3 L2419.7 1630.9 L2421.3 1636.0 L2423.5 1643.6 L2424.9 1648.1 L2428.6 1643.2 L2432.2 1655.3 L2434.6 1643.2 L2437.0 1636.0 L2439.4 1633.6 L2441.8 1607.0 L2444.3 1580.4 L2446.2 1574.1 L2447.9 1568.4 L2450.3 1563.5 L2451.9 1565.8 L2453.9 1565.9 L2455.7 1566.7 L2458.7 1570.8 L2461.4 1567.2 L2463.6 1565.9 L2466.0 1556.3 L2469.6 1561.1 L2472.8 1580.4 L2474.6 1578.2 L2476.1 1578.0 L2479.3 1597.3 L2482.4 1573.2 L2485.3 1573.2 L2487.7 1575.6 L2489.8 1578.7 L2492.6 1578.0 L2496.2 1580.4 L2498.6 1588.9 L2501.0 1581.6 L2503.0 1582.3 L2504.6 1580.4 L2507.1 1593.7 L2509.5 1590.1 L2513.1 1590.1 L2516.7 1588.9 L2518.1 1590.2 L2520.3 1592.5 L2522.8 1587.7 L2525.2 1593.7 L2527.6 1594.0 L2529.5 1593.9 L2531.2 1593.7 L2533.3 1588.2 L2535.6 1581.6 L2537.1 1584.1 L2539.7 1588.9 L2542.7 1589.3 L2544.5 1590.1 L2546.5 1588.6 L2548.1 1590.1 L2550.3 1598.1 L2551.7 1604.6 L2552.9 1636.0 L2555.4 1643.2 L2557.9 1644.0 L2560.2 1640.8 L2561.7 1639.5 L2563.8 1636.0 L2566.2 1643.2 L2569.9 1643.2 L2573.5 1642.0 L2575.9 1619.1 L2576.9 1618.1 L2579.3 1644.7 L2582.9 1642.3 L2585.4 1644.7 L2589.0 1647.1 L2592.6 1636.2 L2596.2 1649.5 L2597.6 1651.5 L2599.9 1654.3 L2601.4 1646.8 L2603.5 1637.4 L2605.2 1635.2 L2607.1 1632.6 L2609.0 1633.0 L2610.7 1632.6 L2612.8 1626.4 L2614.3 1622.9 L2616.6 1625.4 L2618.0 1626.6 L2620.4 1633.8 L2622.2 1634.1 L2624.0 1633.8 L2626.4 1639.9 L2628.8 1639.9 L2631.3 1625.4 L2634.9 1627.8 L2637.3 1613.3 L2639.3 1613.7 L2640.9 1615.7 L2643.1 1619.0 L2644.5 1622.9 L2647.0 1610.9 L2648.7 1610.6 L2651.8 1613.3 L2654.2 1618.1 L2656.3 1623.8 L2657.8 1630.2 L2660.1 1631.3 L2661.4 1630.2 L2663.9 1622.9 L2666.3 1601.2 L2667.7 1599.3 L2669.9 1603.6 L2672.3 1591.5 L2674.7 1581.9 L2677.9 1579.5 L2679.6 1533.6 L2682.0 1511.8 L2683.2 1505.8 L2685.6 1519.1 L2688.5 1513.0 L2690.4 1509.4 L2692.3 1508.7 L2694.1 1509.4 L2696.5 1498.6 L2698.9 1507.0 L2702.5 1502.2 L2706.1 1501.0 L2709.8 1492.5 L2711.2 1480.3 L2713.4 1463.5 L2715.0 1466.8 L2717.0 1470.8 L2718.8 1482.6 L2720.6 1492.5 L2723.0 1459.9 L2725.5 1481.6 L2729.1 1463.5 L2732.0 1465.9 L2733.9 1488.9 L2735.8 1475.8 L2737.5 1463.5 L2740.7 1459.9 L2743.6 1463.5 L2746.0 1469.6 L2748.4 1458.7 L2752.0 1461.1 L2755.2 1441.8 L2756.6 1432.0 L2758.1 1422.5 L2760.5 1362.1 L2762.3 1364.9 L2764.1 1369.3 L2766.1 1364.6 L2767.7 1360.9 L2770.1 1371.7 L2772.6 1408.0 L2776.2 1376.6 L2778.6 1386.2 L2781.7 1376.6 L2783.4 1400.7 L2785.0 1394.5 L2787.1 1383.8 L2788.8 1373.5 L2790.7 1363.3 L2793.1 1362.1 L2794.5 1363.9 L2796.7 1370.5 L2798.2 1369.4 L2800.1 1370.1 L2801.5 1371.7 L2804.4 1382.6 L2806.4 1392.3 L2807.7 1389.4 L2809.6 1390.7 L2811.1 1388.1 L2811.9 1357.1 L2813.6 1347.6 L2815.4 1377.8 L2818.0 1358.8 L2821.0 1361.8 L2824.0 1364.0 L2824.9 1315.7 L2826.6 1315.4 L2828.3 1315.7 L2830.4 1354.4 L2832.1 1382.4 L2834.2 1379.6 L2835.9 1378.6 L2836.3 1396.2 L2838.2 1394.5 L2840.6 1375.7 L2842.8 1379.5 L2844.4 1400.7 L2846.6 1400.7 L2848.2 1396.4 L2850.4 1399.2 L2852.0 1430.2 L2853.9 1430.2 L2855.8 1422.6 L2858.3 1427.3 L2859.6 1394.5 L2862.5 1392.5 L2864.7 1373.5 L2867.3 1373.5 L2869.2 1388.7 L2873.2 1372.6 L2875.8 1380.8 L2877.7 1384.9 L2880.8 1382.4 L2883.0 1362.8 L2885.3 1312.2 L2887.2 1304.7 L2889.6 1293.2 L2891.3 1262.2 L2893.9 1277.7 L2894.8 1238.0 L2896.7 1233.1 L2899.1 1231.1 L2901.7 1238.0 L2903.4 1227.7 L2905.1 1244.9 L2906.8 1225.9 L2910.3 1241.5 L2912.9 1253.5 L2915.5 1243.2 L2918.1 1239.7 L2920.8 1074.6 L2923.2 1077.1 L2925.1 1089.1 L2928.0 1077.1 L2930.4 1043.2 L2931.6 982.9 L2933.3 1050.5 L2936.5 1011.8 L2938.9 981.6 L2942.5 975.6 L2944.4 922.5 L2945.9 914.5 L2947.8 908.0 L2949.8 922.5 L2952.7 1026.3 L2955.8 981.6 L2958.2 1079.5 L2959.4 990.1 L2961.4 990.1 L2963.8 1055.3 L2966.7 1049.8 L2968.6 1048.1 L2971.5 956.3 L2973.9 961.1 L2976.3 944.2 L2978.7 961.1 L2982.4 935.7 L2984.8 951.4 L2986.0 1023.9 L2988.4 1016.7 L2990.8 980.4 L2993.2 985.3 L2995.7 970.8 L2997.6 930.9 L3000.5 965.9 L3002.9 946.6 L3005.3 961.1 L3007.2 1045.7 L3009.7 1023.9 L3011.4 1055.3 L3014.5 1089.1 L3015.9 1070.4 L3017.4 1048.1 L3020.3 1031.2 L3023.4 1005.8 L3025.8 1014.3 L3027.1 1048.1 L3029.1 1043.4 L3030.7 1037.2 L3033.1 1057.7 L3035.5 1050.5 L3038.6 1052.9 L3040.3 1136.2 L3043.5 1126.6 L3045.2 1052.9 L3048.8 1045.7 L3052.4 1091.5 L3053.7 1080.3 L3056.0 1065.0 L3058.5 1100.0 L3060.9 1098.8 L3063.8 1067.4 L3065.7 1085.5 L3067.6 1016.7 L3070.5 998.6 L3072.7 1006.9 L3074.2 1010.6 L3076.6 933.3 L3079.0 946.6 L3082.1 985.3 L3085.0 968.4 L3087.8 965.8 L3089.9 964.7 L3091.6 976.5 L3093.5 990.1 L3095.4 989.4 L3097.3 989.7 L3099.2 987.9 L3100.5 990.1 L3102.9 965.9 L3104.8 949.5 L3106.6 937.0 L3109.0 944.2 L3111.4 964.7 L3113.8 961.1 L3116.2 962.3 L3118.6 992.5 L3121.1 985.3 L3124.7 1019.1 L3128.3 1007.0 L3130.7 1011.8 L3131.9 1028.7 L3135.6 1036.0 L3138.0 1048.1 L3140.4 1043.2 L3143.3 1103.6 L3145.2 1085.5 L3148.8 1089.1 L3150.5 1102.4 L3152.2 1093.4 L3153.7 1087.9 L3155.4 1067.4 L3157.3 1066.2 L3159.7 1084.3 L3162.6 1159.2 L3165.7 1142.3 L3168.2 1173.7 L3171.8 1143.5 L3175.4 1154.3 L3176.8 1145.0 L3179.0 1127.8 L3181.4 1098.8 L3183.4 1036.0 L3186.3 1034.8 L3188.7 1048.1 L3191.1 1007.0 L3193.5 985.3 L3196.4 987.7 L3198.4 1019.1 L3201.3 1023.9 L3203.2 1014.3 L3205.6 985.3 L3208.0 985.3 L3211.6 1014.3 L3212.9 1036.0 L3215.7 1030.0 L3218.9 1098.8 L3220.3 1127.3 L3222.2 1162.8 L3223.7 1188.2 L3226.1 1180.9 L3228.6 1086.7 L3231.0 1091.5 L3234.6 1127.8 L3237.0 1103.6 L3239.4 1127.8 L3242.3 1147.1 L3245.5 1122.9 L3247.9 1132.6 L3250.3 1122.9 L3252.7 1094.0 L3255.1 1101.2 L3257.5 1048.1 L3260.7 1045.7 L3263.6 1101.2 L3264.8 1118.1 L3267.2 1127.8 L3270.8 1125.4 L3274.4 1127.8 L3275.7 1149.5 L3277.1 1147.2 L3279.3 1144.7 L3280.9 1157.8 L3282.8 1177.6 L3285.3 1202.7 L3288.4 1171.9 L3290.1 1156.8 L3292.2 1152.2 L3293.8 1144.7 L3296.0 1120.1 L3297.4 1103.6 L3301.0 1132.6 L3303.4 1132.6 L3305.8 1098.8 L3308.3 1065.0 L3311.9 1060.1 L3315.5 1052.9 L3317.9 1062.6 L3320.3 1045.7 L3322.8 1021.5 L3324.4 1020.6 L3326.4 1021.5 L3328.2 1061.0 L3330.0 1098.8 L3332.0 1100.7 L3333.6 1101.2 L3335.7 1086.5 L3337.2 1079.5 L3339.5 1072.0 L3340.9 1068.6 L3344.5 1084.3 L3346.9 1103.6 L3349.0 1082.5 L3350.5 1067.4 L3352.9 1062.6 L3355.4 1011.8 L3357.8 997.3 L3360.2 987.7 L3362.6 985.3 L3364.1 979.2 L3366.2 970.8 L3368.6 1004.6 L3372.3 990.1 L3373.6 990.9 L3375.5 991.3 L3377.3 992.5 L3379.3 967.0 L3381.4 938.7 L3383.5 913.8 L3385.0 926.1 L3387.7 951.1 L3391.8 965.6 L3394.4 977.6 L3395.9 986.3 L3398.8 868.2 L3402.2 855.8 L3403.9 854.4 L3405.5 849.6 L3407.1 789.5 L3408.4 665.2 L3411.3 636.2 L3413.8 681.8 L3415.4 627.9 L3417.1 634.8 L3418.7 640.3 L3420.8 632.0 L3422.8 604.5 L3424.9 574.0 L3427.0 507.7 L3429.1 503.6 L3432.0 520.2 L3434.2 563.8 L3436.1 607.2 L3437.9 575.3 L3439.4 549.2 L3442.8 524.3 L3445.5 543.2 L3446.9 551.2 L3449.8 532.6 L3451.9 507.7 L3455.2 530.5 L3456.9 491.2 L3458.8 476.5 L3460.2 468.4 L3462.2 532.6 L3464.4 499.8 L3466.4 468.4 L3468.2 465.3 L3471.1 461.8 L3474.2 389.3 L3476.9 387.3 L3478.3 495.0 L3480.4 523.9 L3482.5 526.0 L3484.5 561.2 L3487.6 565.4 L3489.7 497.0 L3492.8 496.0 L3494.9 557.1 L3496.6 558.7 L3498.0 559.2 L3501.1 598.5 L3504.2 577.8 L3507.3 515.7 L3509.9 512.9 L3511.4 511.5 L3514.1 450.4 L3516.6 526.0 L3519.7 598.5 L3521.8 565.4 L3524.9 571.6 L3528.0 569.5 L3531.1 478.4 L3533.2 420.4 L3535.3 464.9 L3537.3 418.3 L3540.4 420.4 L3542.5 389.3 L3544.6 426.6 L3547.7 408.0 L3550.8 411.1 L3552.9 445.3 L3554.9 463.9 L3557.6 463.9 L3559.7 412.1 L3562.2 443.2 L3564.2 463.9 L3567.4 464.9 L3569.4 519.8 L3571.5 538.4 L3574.2 539.6 L3576.1 541.4 L3577.7 540.5 L3579.8 526.0 L3582.9 548.8 L3583.9 519.8 L3585.6 520.4 L3587.0 521.9 L3590.1 538.4 L3593.2 548.8 L3595.0 555.2 L3597.4 559.2 L3599.5 511.5 L3602.6 536.4 L3604.5 538.8 L3606.7 543.6 L3607.6 621.4 L3610.3 726.6 L3612.1 724.7 L3614.5 724.8 L3615.8 708.6 L3617.2 690.3 L3618.6 574.8 L3620.7 700.7 L3623.1 635.2 L3625.5 642.1 L3628.3 690.3 L3631.0 697.2 L3632.4 786.9 L3634.1 817.9 L3635.9 742.1 L3638.6 776.6 L3640.3 738.6 L3642.8 755.9 L3643.8 731.7 L3646.2 752.4 L3649.0 752.4 L3650.7 690.3 L3652.4 731.7 L3656.6 742.1 L3659.3 680.0 L3661.3 680.0 L3664.5 683.4 L3667.9 745.5 L3671.4 759.3 L3674.8 721.4 L3676.4 736.8 L3678.3 755.9 L3680.7 735.2 L3682.1 741.5 L3683.4 745.5 L3685.2 821.4 L3688.6 855.9 L3691.0 759.3 L3693.8 800.7 L3696.6 717.9 L3699.0 738.6 L3701.0 740.1 L3702.4 738.6 L3704.8 724.8 L3706.7 721.3 L3709.3 721.4 L3712.8 680.0 L3715.2 586.9 L3718.0 580.9 L3719.7 576.6 L3721.4 567.9 L3724.8 578.3 L3728.3 566.2 L3731.7 536.9 L3733.2 538.4 L3735.2 535.2 L3737.9 569.7 L3740.3 562.8 L3743.8 531.7 L3745.5 435.2 L3749.0 411.0 L3752.4 438.6 L3754.0 433.7 L3755.9 424.8" fill="none" stroke="#111113" stroke-width="5.5" stroke-linejoin="miter" stroke-miterlimit="4" stroke-linecap="butt"/><rect x="258" y="312" width="4.4" height="1738" fill="#d5d4de"/><rect x="280" y="2049.8" width="3477.6" height="2.6" fill="#d5d4de"/><rect x="506.9" y="2052" width="2.6" height="23" fill="#d5d4de"/><rect x="737.0" y="2052" width="2.6" height="23" fill="#d5d4de"/><rect x="964.1" y="2052" width="2.6" height="23" fill="#d5d4de"/><rect x="1197.2" y="2052" width="2.6" height="23" fill="#d5d4de"/><rect x="1426.6" y="2052" width="2.6" height="23" fill="#d5d4de"/><rect x="1654.5" y="2052" width="2.6" height="23" fill="#d5d4de"/><rect x="1886.8" y="2052" width="2.6" height="23" fill="#d5d4de"/><rect x="2119.9" y="2052" width="2.6" height="23" fill="#d5d4de"/><rect x="2344.7" y="2052" width="2.6" height="23" fill="#d5d4de"/><rect x="2580.1" y="2052" width="2.6" height="23" fill="#d5d4de"/><rect x="2809.5" y="2052" width="2.6" height="23" fill="#d5d4de"/><rect x="3037.3" y="2052" width="2.6" height="23" fill="#d5d4de"/><rect x="3272.7" y="2052" width="2.6" height="23" fill="#d5d4de"/><rect x="3502.2" y="2052" width="2.6" height="23" fill="#d5d4de"/><rect x="3730.0" y="2052" width="2.6" height="23" fill="#d5d4de"/><rect x="3775.4" y="312.3" width="4.2" height="1735.7" fill="#111113"/><text transform="translate(508.2,0) scale(0.965,1)" x="0" y="2125.3" font-size="40.5" fill="#71707c" text-anchor="middle">2020 Sep</text><text transform="translate(738.3,0) scale(0.965,1)" x="0" y="2125.3" font-size="40.5" fill="#71707c" text-anchor="middle">2021 Jan</text><text transform="translate(965.4,0) scale(0.965,1)" x="0" y="2125.3" font-size="40.5" fill="#71707c" text-anchor="middle">2021 May</text><text transform="translate(1198.5,0) scale(0.965,1)" x="0" y="2125.3" font-size="40.5" fill="#71707c" text-anchor="middle">2021 Sep</text><text transform="translate(1427.9,0) scale(0.965,1)" x="0" y="2125.3" font-size="40.5" fill="#71707c" text-anchor="middle">2022 Jan</text><text transform="translate(1655.8,0) scale(0.965,1)" x="0" y="2125.3" font-size="40.5" fill="#71707c" text-anchor="middle">2022 May</text><text transform="translate(1888.1,0) scale(0.965,1)" x="0" y="2125.3" font-size="40.5" fill="#71707c" text-anchor="middle">2022 Sep</text><text transform="translate(2121.2,0) scale(0.965,1)" x="0" y="2125.3" font-size="40.5" fill="#71707c" text-anchor="middle">2023 Jan</text><text transform="translate(2346.0,0) scale(0.965,1)" x="0" y="2125.3" font-size="40.5" fill="#71707c" text-anchor="middle">2023 May</text><text transform="translate(2581.4,0) scale(0.965,1)" x="0" y="2125.3" font-size="40.5" fill="#71707c" text-anchor="middle">2023 Sep</text><text transform="translate(2810.8,0) scale(0.965,1)" x="0" y="2125.3" font-size="40.5" fill="#71707c" text-anchor="middle">2024 Jan</text><text transform="translate(3038.6,0) scale(0.965,1)" x="0" y="2125.3" font-size="40.5" fill="#71707c" text-anchor="middle">2024 May</text><text transform="translate(3274.0,0) scale(0.965,1)" x="0" y="2125.3" font-size="40.5" fill="#71707c" text-anchor="middle">2024 Sep</text><text transform="translate(3503.5,0) scale(0.965,1)" x="0" y="2125.3" font-size="40.5" fill="#71707c" text-anchor="middle">2025 Jan</text><text transform="translate(3731.3,0) scale(0.965,1)" x="0" y="2125.3" font-size="40.5" fill="#71707c" text-anchor="middle">2025 May</text><text transform="translate(223.5,0) scale(0.94,1)" x="0" y="668.0" font-size="51" fill="#121214" text-anchor="end">4B</text><text transform="translate(223.5,0) scale(0.94,1)" x="0" y="1145.7" font-size="51" fill="#121214" text-anchor="end">2B</text><text transform="translate(223.5,0) scale(0.94,1)" x="0" y="1621.9" font-size="51" fill="#121214" text-anchor="end">0</text><text transform="translate(3815.5,0) scale(0.935,1)" x="0" y="497.6" font-size="51" fill="#121214">100K</text><text transform="translate(3815.5,0) scale(0.935,1)" x="0" y="887.7" font-size="51" fill="#121214">75K</text><text transform="translate(3815.5,0) scale(0.935,1)" x="0" y="1279.5" font-size="51" fill="#121214">50K</text><text transform="translate(3815.5,0) scale(0.935,1)" x="0" y="1670.0" font-size="51" fill="#121214">25K</text><text transform="translate(3815.5,0) scale(0.935,1)" x="0" y="2063.4" font-size="51" fill="#121214">0</text><text transform="translate(137,1182.5) rotate(-90)" x="0" y="0" font-size="53" fill="#121214" text-anchor="middle" textLength="315.5" lengthAdjust="spacingAndGlyphs">Realized Profit</text><text x="3401.2" y="2193.7" font-size="37" fill="#71707c" textLength="499.7" lengthAdjust="spacingAndGlyphs">© CryptoQuant. All rights reserved</text></svg></body></html>
